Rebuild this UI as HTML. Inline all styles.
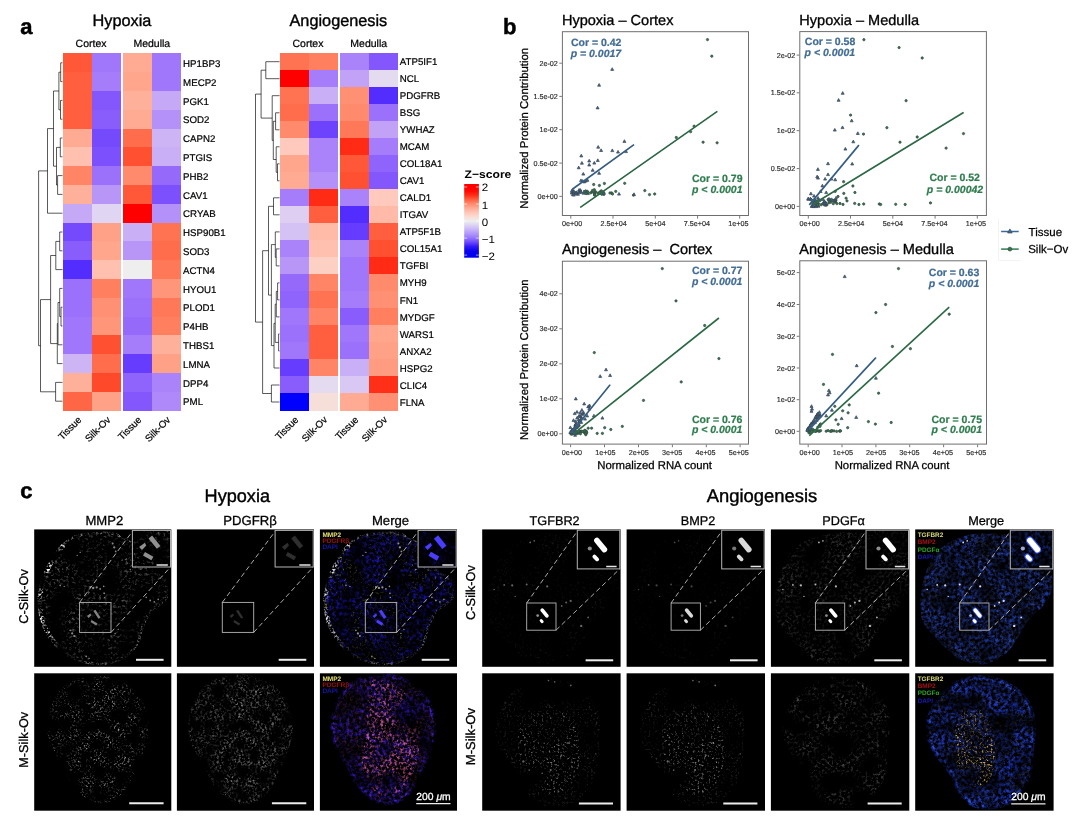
<!DOCTYPE html>
<html lang="en"><head><meta charset="utf-8"><title>Figure</title>
<style>
html,body{margin:0;padding:0;background:#fff;}
body{width:1080px;height:824px;overflow:hidden;font-family:"Liberation Sans", Arial, Helvetica, sans-serif;}
svg{display:block;font-family:"Liberation Sans", Arial, Helvetica, sans-serif;}
</style></head><body>
<svg width="1080" height="824" viewBox="0 0 1080 824" text-rendering="geometricPrecision">
<rect width="1080" height="824" fill="#fff"/>
<text x="20.30" y="33.60" font-size="22" font-weight="bold" fill="#000" stroke="#000" stroke-width="0.48">a</text>
<g shape-rendering="crispEdges">
<rect x="62.90" y="53.40" width="29.28" height="19.10" fill="#FF5838"/>
<rect x="91.88" y="53.40" width="29.28" height="19.10" fill="#A077FB"/>
<rect x="122.86" y="53.40" width="29.28" height="19.10" fill="#FFAB94"/>
<rect x="151.84" y="53.40" width="29.28" height="19.10" fill="#A077FB"/>
<rect x="62.90" y="72.20" width="29.28" height="19.10" fill="#FF5F3F"/>
<rect x="91.88" y="72.20" width="29.28" height="19.10" fill="#A57DFA"/>
<rect x="122.86" y="72.20" width="29.28" height="19.10" fill="#FFA68D"/>
<rect x="151.84" y="72.20" width="29.28" height="19.10" fill="#A077FB"/>
<rect x="62.90" y="91.00" width="29.28" height="19.10" fill="#FF5F3F"/>
<rect x="91.88" y="91.00" width="29.28" height="19.10" fill="#8357FC"/>
<rect x="122.86" y="91.00" width="29.28" height="19.10" fill="#FFB09B"/>
<rect x="151.84" y="91.00" width="29.28" height="19.10" fill="#C5A8F6"/>
<rect x="62.90" y="109.80" width="29.28" height="19.10" fill="#FF5F3F"/>
<rect x="91.88" y="109.80" width="29.28" height="19.10" fill="#895DFC"/>
<rect x="122.86" y="109.80" width="29.28" height="19.10" fill="#FFAB94"/>
<rect x="151.84" y="109.80" width="29.28" height="19.10" fill="#B490F9"/>
<rect x="62.90" y="128.60" width="29.28" height="19.10" fill="#FFAB94"/>
<rect x="91.88" y="128.60" width="29.28" height="19.10" fill="#754AFD"/>
<rect x="122.86" y="128.60" width="29.28" height="19.10" fill="#FF6D4C"/>
<rect x="151.84" y="128.60" width="29.28" height="19.10" fill="#CDB5F5"/>
<rect x="62.90" y="147.40" width="29.28" height="19.10" fill="#FFC0AF"/>
<rect x="91.88" y="147.40" width="29.28" height="19.10" fill="#7C51FD"/>
<rect x="122.86" y="147.40" width="29.28" height="19.10" fill="#FF5132"/>
<rect x="151.84" y="147.40" width="29.28" height="19.10" fill="#C9AFF6"/>
<rect x="62.90" y="166.20" width="29.28" height="19.10" fill="#FF8566"/>
<rect x="91.88" y="166.20" width="29.28" height="19.10" fill="#9B70FB"/>
<rect x="122.86" y="166.20" width="29.28" height="19.10" fill="#FF8A6C"/>
<rect x="151.84" y="166.20" width="29.28" height="19.10" fill="#956AFB"/>
<rect x="62.90" y="185.00" width="29.28" height="19.10" fill="#FFB09B"/>
<rect x="91.88" y="185.00" width="29.28" height="19.10" fill="#B896F8"/>
<rect x="122.86" y="185.00" width="29.28" height="19.10" fill="#FF5838"/>
<rect x="151.84" y="185.00" width="29.28" height="19.10" fill="#7C51FD"/>
<rect x="62.90" y="203.80" width="29.28" height="19.10" fill="#C5A8F6"/>
<rect x="91.88" y="203.80" width="29.28" height="19.10" fill="#E0D5F2"/>
<rect x="122.86" y="203.80" width="29.28" height="19.10" fill="#FF0000"/>
<rect x="151.84" y="203.80" width="29.28" height="19.10" fill="#B490F9"/>
<rect x="62.90" y="222.60" width="29.28" height="19.10" fill="#754AFD"/>
<rect x="91.88" y="222.60" width="29.28" height="19.10" fill="#FFA187"/>
<rect x="122.86" y="222.60" width="29.28" height="19.10" fill="#C9AFF6"/>
<rect x="151.84" y="222.60" width="29.28" height="19.10" fill="#FF7352"/>
<rect x="62.90" y="241.40" width="29.28" height="19.10" fill="#895DFC"/>
<rect x="91.88" y="241.40" width="29.28" height="19.10" fill="#FFA68D"/>
<rect x="122.86" y="241.40" width="29.28" height="19.10" fill="#B896F8"/>
<rect x="151.84" y="241.40" width="29.28" height="19.10" fill="#FF6D4C"/>
<rect x="62.90" y="260.20" width="29.28" height="19.10" fill="#532DFE"/>
<rect x="91.88" y="260.20" width="29.28" height="19.10" fill="#FFC0AF"/>
<rect x="122.86" y="260.20" width="29.28" height="19.10" fill="#EEEEEE"/>
<rect x="151.84" y="260.20" width="29.28" height="19.10" fill="#FF7959"/>
<rect x="62.90" y="279.00" width="29.28" height="19.10" fill="#9B70FB"/>
<rect x="91.88" y="279.00" width="29.28" height="19.10" fill="#FF7F5F"/>
<rect x="122.86" y="279.00" width="29.28" height="19.10" fill="#A077FB"/>
<rect x="151.84" y="279.00" width="29.28" height="19.10" fill="#FF9679"/>
<rect x="62.90" y="297.80" width="29.28" height="19.10" fill="#9B70FB"/>
<rect x="91.88" y="297.80" width="29.28" height="19.10" fill="#FF9073"/>
<rect x="122.86" y="297.80" width="29.28" height="19.10" fill="#9B70FB"/>
<rect x="151.84" y="297.80" width="29.28" height="19.10" fill="#FF7959"/>
<rect x="62.90" y="316.60" width="29.28" height="19.10" fill="#A077FB"/>
<rect x="91.88" y="316.60" width="29.28" height="19.10" fill="#FF9679"/>
<rect x="122.86" y="316.60" width="29.28" height="19.10" fill="#956AFB"/>
<rect x="151.84" y="316.60" width="29.28" height="19.10" fill="#FF7F5F"/>
<rect x="62.90" y="335.40" width="29.28" height="19.10" fill="#A077FB"/>
<rect x="91.88" y="335.40" width="29.28" height="19.10" fill="#FF5132"/>
<rect x="122.86" y="335.40" width="29.28" height="19.10" fill="#A57DFA"/>
<rect x="151.84" y="335.40" width="29.28" height="19.10" fill="#FFB09B"/>
<rect x="62.90" y="354.20" width="29.28" height="19.10" fill="#CDB5F5"/>
<rect x="91.88" y="354.20" width="29.28" height="19.10" fill="#FF6D4C"/>
<rect x="122.86" y="354.20" width="29.28" height="19.10" fill="#663CFE"/>
<rect x="151.84" y="354.20" width="29.28" height="19.10" fill="#FFA187"/>
<rect x="62.90" y="373.00" width="29.28" height="19.10" fill="#FFB09B"/>
<rect x="91.88" y="373.00" width="29.28" height="19.10" fill="#FF492B"/>
<rect x="122.86" y="373.00" width="29.28" height="19.10" fill="#8F64FC"/>
<rect x="151.84" y="373.00" width="29.28" height="19.10" fill="#AA83FA"/>
<rect x="62.90" y="391.80" width="29.28" height="19.10" fill="#FF6645"/>
<rect x="91.88" y="391.80" width="29.28" height="19.10" fill="#FFA187"/>
<rect x="122.86" y="391.80" width="29.28" height="19.10" fill="#8357FC"/>
<rect x="151.84" y="391.80" width="29.28" height="19.10" fill="#AF89F9"/>
</g>
<text x="183.12" y="67.00" font-size="9.7" fill="#000" stroke="#000" stroke-width="0.21">HP1BP3</text>
<text x="183.12" y="85.80" font-size="9.7" fill="#000" stroke="#000" stroke-width="0.21">MECP2</text>
<text x="183.12" y="104.60" font-size="9.7" fill="#000" stroke="#000" stroke-width="0.21">PGK1</text>
<text x="183.12" y="123.40" font-size="9.7" fill="#000" stroke="#000" stroke-width="0.21">SOD2</text>
<text x="183.12" y="142.20" font-size="9.7" fill="#000" stroke="#000" stroke-width="0.21">CAPN2</text>
<text x="183.12" y="161.00" font-size="9.7" fill="#000" stroke="#000" stroke-width="0.21">PTGIS</text>
<text x="183.12" y="179.80" font-size="9.7" fill="#000" stroke="#000" stroke-width="0.21">PHB2</text>
<text x="183.12" y="198.60" font-size="9.7" fill="#000" stroke="#000" stroke-width="0.21">CAV1</text>
<text x="183.12" y="217.40" font-size="9.7" fill="#000" stroke="#000" stroke-width="0.21">CRYAB</text>
<text x="183.12" y="236.20" font-size="9.7" fill="#000" stroke="#000" stroke-width="0.21">HSP90B1</text>
<text x="183.12" y="255.00" font-size="9.7" fill="#000" stroke="#000" stroke-width="0.21">SOD3</text>
<text x="183.12" y="273.80" font-size="9.7" fill="#000" stroke="#000" stroke-width="0.21">ACTN4</text>
<text x="183.12" y="292.60" font-size="9.7" fill="#000" stroke="#000" stroke-width="0.21">HYOU1</text>
<text x="183.12" y="311.40" font-size="9.7" fill="#000" stroke="#000" stroke-width="0.21">PLOD1</text>
<text x="183.12" y="330.20" font-size="9.7" fill="#000" stroke="#000" stroke-width="0.21">P4HB</text>
<text x="183.12" y="349.00" font-size="9.7" fill="#000" stroke="#000" stroke-width="0.21">THBS1</text>
<text x="183.12" y="367.80" font-size="9.7" fill="#000" stroke="#000" stroke-width="0.21">LMNA</text>
<text x="183.12" y="386.60" font-size="9.7" fill="#000" stroke="#000" stroke-width="0.21">DPP4</text>
<text x="183.12" y="405.40" font-size="9.7" fill="#000" stroke="#000" stroke-width="0.21">PML</text>
<text x="92.60" y="25.70" font-size="16.3" fill="#000" stroke="#000" stroke-width="0.36">Hypoxia</text>
<text x="91.08" y="47.30" font-size="10.5" text-anchor="middle" fill="#000" stroke="#000" stroke-width="0.23">Cortex</text>
<text x="151.84" y="47.30" font-size="10.5" text-anchor="middle" fill="#000" stroke="#000" stroke-width="0.23">Medulla</text>
<text x="82.09" y="420.50" font-size="9.7" text-anchor="end" fill="#000" stroke="#000" stroke-width="0.21" transform="rotate(-45 82.09 420.50)">Tissue</text>
<text x="111.07" y="420.50" font-size="9.7" text-anchor="end" fill="#000" stroke="#000" stroke-width="0.21" transform="rotate(-45 111.07 420.50)">Silk-Ov</text>
<text x="142.05" y="420.50" font-size="9.7" text-anchor="end" fill="#000" stroke="#000" stroke-width="0.21" transform="rotate(-45 142.05 420.50)">Tissue</text>
<text x="171.03" y="420.50" font-size="9.7" text-anchor="end" fill="#000" stroke="#000" stroke-width="0.21" transform="rotate(-45 171.03 420.50)">Silk-Ov</text>
<path d="M62.5 62.8H60.7V81.6H62.5M62.5 100.4H60.5V119.2H62.5M60.7 72.2H58.9V109.8H60.5M62.5 138.0H60.3V156.8H62.5M62.5 175.6H57.6V194.4H62.5M60.3 147.4H56.5V185.0H57.6M58.9 91.0H53.5V166.2H56.5M62.5 213.2H47.5V128.6H53.5M62.5 232.0H59.7V250.8H62.5M59.7 241.4H55.8V269.6H62.5M62.5 307.2H61.0V326.0H62.5M62.5 288.4H59.7V316.6H61.0M59.7 302.5H58.0V344.8H62.5M58.0 323.6H57.3V363.6H62.5M55.8 255.5H50.6V343.6H57.3M62.5 382.4H55.6V401.2H62.5M50.6 299.6H40.5V391.8H55.6M47.5 170.9H38.6V345.7H40.5" fill="none" stroke="#000" stroke-width="0.65"/>
<g shape-rendering="crispEdges">
<rect x="280.00" y="53.20" width="29.05" height="17.31" fill="#FF7352"/>
<rect x="308.75" y="53.20" width="29.05" height="17.31" fill="#FF7F5F"/>
<rect x="340.00" y="53.20" width="29.05" height="17.31" fill="#AA83FA"/>
<rect x="368.75" y="53.20" width="29.05" height="17.31" fill="#8357FC"/>
<rect x="280.00" y="70.21" width="29.05" height="17.31" fill="#FF0000"/>
<rect x="308.75" y="70.21" width="29.05" height="17.31" fill="#A57DFA"/>
<rect x="340.00" y="70.21" width="29.05" height="17.31" fill="#C1A2F7"/>
<rect x="368.75" y="70.21" width="29.05" height="17.31" fill="#E4DBF1"/>
<rect x="280.00" y="87.23" width="29.05" height="17.31" fill="#FF7352"/>
<rect x="308.75" y="87.23" width="29.05" height="17.31" fill="#C9AFF6"/>
<rect x="340.00" y="87.23" width="29.05" height="17.31" fill="#FF9073"/>
<rect x="368.75" y="87.23" width="29.05" height="17.31" fill="#532DFE"/>
<rect x="280.00" y="104.24" width="29.05" height="17.31" fill="#FF6D4C"/>
<rect x="308.75" y="104.24" width="29.05" height="17.31" fill="#9B70FB"/>
<rect x="340.00" y="104.24" width="29.05" height="17.31" fill="#FF8A6C"/>
<rect x="368.75" y="104.24" width="29.05" height="17.31" fill="#9B70FB"/>
<rect x="280.00" y="121.26" width="29.05" height="17.31" fill="#FF8A6C"/>
<rect x="308.75" y="121.26" width="29.05" height="17.31" fill="#6E43FD"/>
<rect x="340.00" y="121.26" width="29.05" height="17.31" fill="#FF7959"/>
<rect x="368.75" y="121.26" width="29.05" height="17.31" fill="#C1A2F7"/>
<rect x="280.00" y="138.27" width="29.05" height="17.31" fill="#FFCABD"/>
<rect x="308.75" y="138.27" width="29.05" height="17.31" fill="#AA83FA"/>
<rect x="340.00" y="138.27" width="29.05" height="17.31" fill="#FF2B14"/>
<rect x="368.75" y="138.27" width="29.05" height="17.31" fill="#A57DFA"/>
<rect x="280.00" y="155.29" width="29.05" height="17.31" fill="#FFA68D"/>
<rect x="308.75" y="155.29" width="29.05" height="17.31" fill="#AA83FA"/>
<rect x="340.00" y="155.29" width="29.05" height="17.31" fill="#FF5838"/>
<rect x="368.75" y="155.29" width="29.05" height="17.31" fill="#8F64FC"/>
<rect x="280.00" y="172.30" width="29.05" height="17.31" fill="#FFAB94"/>
<rect x="308.75" y="172.30" width="29.05" height="17.31" fill="#B490F9"/>
<rect x="340.00" y="172.30" width="29.05" height="17.31" fill="#FF5132"/>
<rect x="368.75" y="172.30" width="29.05" height="17.31" fill="#8357FC"/>
<rect x="280.00" y="189.31" width="29.05" height="17.31" fill="#A57DFA"/>
<rect x="308.75" y="189.31" width="29.05" height="17.31" fill="#FF2B14"/>
<rect x="340.00" y="189.31" width="29.05" height="17.31" fill="#AA83FA"/>
<rect x="368.75" y="189.31" width="29.05" height="17.31" fill="#FFCABD"/>
<rect x="280.00" y="206.33" width="29.05" height="17.31" fill="#DDCEF2"/>
<rect x="308.75" y="206.33" width="29.05" height="17.31" fill="#FF5F3F"/>
<rect x="340.00" y="206.33" width="29.05" height="17.31" fill="#532DFE"/>
<rect x="368.75" y="206.33" width="29.05" height="17.31" fill="#FFBBA8"/>
<rect x="280.00" y="223.34" width="29.05" height="17.31" fill="#D5C2F4"/>
<rect x="308.75" y="223.34" width="29.05" height="17.31" fill="#FFBBA8"/>
<rect x="340.00" y="223.34" width="29.05" height="17.31" fill="#663CFE"/>
<rect x="368.75" y="223.34" width="29.05" height="17.31" fill="#FF5F3F"/>
<rect x="280.00" y="240.36" width="29.05" height="17.31" fill="#AA83FA"/>
<rect x="308.75" y="240.36" width="29.05" height="17.31" fill="#FFC0AF"/>
<rect x="340.00" y="240.36" width="29.05" height="17.31" fill="#AA83FA"/>
<rect x="368.75" y="240.36" width="29.05" height="17.31" fill="#FF5132"/>
<rect x="280.00" y="257.37" width="29.05" height="17.31" fill="#B896F8"/>
<rect x="308.75" y="257.37" width="29.05" height="17.31" fill="#FDD0C4"/>
<rect x="340.00" y="257.37" width="29.05" height="17.31" fill="#A077FB"/>
<rect x="368.75" y="257.37" width="29.05" height="17.31" fill="#FF2B14"/>
<rect x="280.00" y="274.39" width="29.05" height="17.31" fill="#956AFB"/>
<rect x="308.75" y="274.39" width="29.05" height="17.31" fill="#FF8566"/>
<rect x="340.00" y="274.39" width="29.05" height="17.31" fill="#A077FB"/>
<rect x="368.75" y="274.39" width="29.05" height="17.31" fill="#FF8A6C"/>
<rect x="280.00" y="291.40" width="29.05" height="17.31" fill="#8F64FC"/>
<rect x="308.75" y="291.40" width="29.05" height="17.31" fill="#FF7352"/>
<rect x="340.00" y="291.40" width="29.05" height="17.31" fill="#A57DFA"/>
<rect x="368.75" y="291.40" width="29.05" height="17.31" fill="#FF9073"/>
<rect x="280.00" y="308.41" width="29.05" height="17.31" fill="#A077FB"/>
<rect x="308.75" y="308.41" width="29.05" height="17.31" fill="#FF8566"/>
<rect x="340.00" y="308.41" width="29.05" height="17.31" fill="#895DFC"/>
<rect x="368.75" y="308.41" width="29.05" height="17.31" fill="#FF7F5F"/>
<rect x="280.00" y="325.43" width="29.05" height="17.31" fill="#9B70FB"/>
<rect x="308.75" y="325.43" width="29.05" height="17.31" fill="#FF5F3F"/>
<rect x="340.00" y="325.43" width="29.05" height="17.31" fill="#A077FB"/>
<rect x="368.75" y="325.43" width="29.05" height="17.31" fill="#FFA68D"/>
<rect x="280.00" y="342.44" width="29.05" height="17.31" fill="#A077FB"/>
<rect x="308.75" y="342.44" width="29.05" height="17.31" fill="#FF5F3F"/>
<rect x="340.00" y="342.44" width="29.05" height="17.31" fill="#9B70FB"/>
<rect x="368.75" y="342.44" width="29.05" height="17.31" fill="#FFA187"/>
<rect x="280.00" y="359.46" width="29.05" height="17.31" fill="#663CFE"/>
<rect x="308.75" y="359.46" width="29.05" height="17.31" fill="#FF8566"/>
<rect x="340.00" y="359.46" width="29.05" height="17.31" fill="#C9AFF6"/>
<rect x="368.75" y="359.46" width="29.05" height="17.31" fill="#FF9B80"/>
<rect x="280.00" y="376.47" width="29.05" height="17.31" fill="#895DFC"/>
<rect x="308.75" y="376.47" width="29.05" height="17.31" fill="#E4DBF1"/>
<rect x="340.00" y="376.47" width="29.05" height="17.31" fill="#D9C8F3"/>
<rect x="368.75" y="376.47" width="29.05" height="17.31" fill="#FF3017"/>
<rect x="280.00" y="393.49" width="29.05" height="17.31" fill="#0000FF"/>
<rect x="308.75" y="393.49" width="29.05" height="17.31" fill="#F6DFD9"/>
<rect x="340.00" y="393.49" width="29.05" height="17.31" fill="#FFAB94"/>
<rect x="368.75" y="393.49" width="29.05" height="17.31" fill="#FF9073"/>
</g>
<text x="399.80" y="65.31" font-size="9.7" fill="#000" stroke="#000" stroke-width="0.21">ATP5IF1</text>
<text x="399.80" y="82.32" font-size="9.7" fill="#000" stroke="#000" stroke-width="0.21">NCL</text>
<text x="399.80" y="99.34" font-size="9.7" fill="#000" stroke="#000" stroke-width="0.21">PDGFRB</text>
<text x="399.80" y="116.35" font-size="9.7" fill="#000" stroke="#000" stroke-width="0.21">BSG</text>
<text x="399.80" y="133.36" font-size="9.7" fill="#000" stroke="#000" stroke-width="0.21">YWHAZ</text>
<text x="399.80" y="150.38" font-size="9.7" fill="#000" stroke="#000" stroke-width="0.21">MCAM</text>
<text x="399.80" y="167.39" font-size="9.7" fill="#000" stroke="#000" stroke-width="0.21">COL18A1</text>
<text x="399.80" y="184.41" font-size="9.7" fill="#000" stroke="#000" stroke-width="0.21">CAV1</text>
<text x="399.80" y="201.42" font-size="9.7" fill="#000" stroke="#000" stroke-width="0.21">CALD1</text>
<text x="399.80" y="218.44" font-size="9.7" fill="#000" stroke="#000" stroke-width="0.21">ITGAV</text>
<text x="399.80" y="235.45" font-size="9.7" fill="#000" stroke="#000" stroke-width="0.21">ATP5F1B</text>
<text x="399.80" y="252.46" font-size="9.7" fill="#000" stroke="#000" stroke-width="0.21">COL15A1</text>
<text x="399.80" y="269.48" font-size="9.7" fill="#000" stroke="#000" stroke-width="0.21">TGFBI</text>
<text x="399.80" y="286.49" font-size="9.7" fill="#000" stroke="#000" stroke-width="0.21">MYH9</text>
<text x="399.80" y="303.51" font-size="9.7" fill="#000" stroke="#000" stroke-width="0.21">FN1</text>
<text x="399.80" y="320.52" font-size="9.7" fill="#000" stroke="#000" stroke-width="0.21">MYDGF</text>
<text x="399.80" y="337.54" font-size="9.7" fill="#000" stroke="#000" stroke-width="0.21">WARS1</text>
<text x="399.80" y="354.55" font-size="9.7" fill="#000" stroke="#000" stroke-width="0.21">ANXA2</text>
<text x="399.80" y="371.56" font-size="9.7" fill="#000" stroke="#000" stroke-width="0.21">HSPG2</text>
<text x="399.80" y="388.58" font-size="9.7" fill="#000" stroke="#000" stroke-width="0.21">CLIC4</text>
<text x="399.80" y="405.59" font-size="9.7" fill="#000" stroke="#000" stroke-width="0.21">FLNA</text>
<text x="289.50" y="25.70" font-size="16.3" fill="#000" stroke="#000" stroke-width="0.36">Angiogenesis</text>
<text x="307.95" y="47.30" font-size="10.5" text-anchor="middle" fill="#000" stroke="#000" stroke-width="0.23">Cortex</text>
<text x="368.75" y="47.30" font-size="10.5" text-anchor="middle" fill="#000" stroke="#000" stroke-width="0.23">Medulla</text>
<text x="299.07" y="420.40" font-size="9.7" text-anchor="end" fill="#000" stroke="#000" stroke-width="0.21" transform="rotate(-45 299.07 420.40)">Tissue</text>
<text x="327.82" y="420.40" font-size="9.7" text-anchor="end" fill="#000" stroke="#000" stroke-width="0.21" transform="rotate(-45 327.82 420.40)">Silk-Ov</text>
<text x="359.07" y="420.40" font-size="9.7" text-anchor="end" fill="#000" stroke="#000" stroke-width="0.21" transform="rotate(-45 359.07 420.40)">Tissue</text>
<text x="387.82" y="420.40" font-size="9.7" text-anchor="end" fill="#000" stroke="#000" stroke-width="0.21" transform="rotate(-45 387.82 420.40)">Silk-Ov</text>
<path d="M279.6 61.7H265.8V78.7H279.6M279.6 112.8H275.6V129.8H279.6M279.6 163.8H277.5V180.8H279.6M279.6 146.8H276.2V172.3H277.5M275.6 121.3H273.3V159.5H276.2M279.6 95.7H272.2V140.4H273.3M265.8 70.2H261.1V118.1H272.2M279.6 197.8H273.5V214.8H279.6M279.6 248.9H276.2V265.9H279.6M279.6 231.9H275.3V257.4H276.2M279.6 282.9H277.6V299.9H279.6M277.6 291.4H276.3V316.9H279.6M279.6 333.9H278.6V351.0H279.6M276.3 304.2H275.2V342.4H278.6M275.2 323.3H274.0V368.0H279.6M275.3 244.6H271.4V345.6H274.0M273.5 206.3H268.5V295.1H271.4M279.6 385.0H271.4V402.0H279.6M268.5 250.7H262.6V393.5H271.4M261.1 94.1H255.5V322.1H262.6" fill="none" stroke="#000" stroke-width="0.65"/>
<defs><linearGradient id="zg" x1="0" y1="0" x2="0" y2="1">
<stop offset="0.0000" stop-color="#FF0000"/>
<stop offset="0.0625" stop-color="#FF0A02"/>
<stop offset="0.1250" stop-color="#FF3018"/>
<stop offset="0.1875" stop-color="#FF6244"/>
<stop offset="0.2500" stop-color="#FF8C70"/>
<stop offset="0.3125" stop-color="#FFAC98"/>
<stop offset="0.3750" stop-color="#FFC6B8"/>
<stop offset="0.4375" stop-color="#FADCD6"/>
<stop offset="0.5000" stop-color="#EEEEEE"/>
<stop offset="0.5625" stop-color="#DCD2F4"/>
<stop offset="0.6250" stop-color="#C8B4F8"/>
<stop offset="0.6875" stop-color="#B096FA"/>
<stop offset="0.7500" stop-color="#9474FA"/>
<stop offset="0.8125" stop-color="#6A48FC"/>
<stop offset="0.8750" stop-color="#3218F6"/>
<stop offset="0.9375" stop-color="#0C04EC"/>
<stop offset="1.0000" stop-color="#0000F0"/>
</linearGradient></defs>
<text transform="translate(464.6 177.7) scale(1.1 1)" font-size="11" font-weight="bold" fill="#000">Z−score</text>
<rect x="464.2" y="184" width="14.7" height="3.3" fill="#FF0000"/><rect x="464.2" y="254.8" width="14.7" height="2.9" fill="#0000F0"/>
<rect x="464.2" y="187.0" width="14.7" height="68.1" fill="url(#zg)"/>
<path d="M464.2 187.0h3M475.9 187.0h3" stroke="#fff" stroke-width="0.6"/>
<text transform="translate(481.8 191.4) scale(1.08 1)" font-size="10.7" fill="#000">2</text>
<path d="M464.2 204.0h3M475.9 204.0h3" stroke="#fff" stroke-width="0.6"/>
<text transform="translate(481.8 208.7) scale(1.08 1)" font-size="10.7" fill="#000">1</text>
<path d="M464.2 221.1h3M475.9 221.1h3" stroke="#fff" stroke-width="0.6"/>
<text transform="translate(481.8 225.9) scale(1.08 1)" font-size="10.7" fill="#000">0</text>
<path d="M464.2 238.1h3M475.9 238.1h3" stroke="#fff" stroke-width="0.6"/>
<text transform="translate(481.8 243.2) scale(1.08 1)" font-size="10.7" fill="#000">−1</text>
<path d="M464.2 255.1h3M475.9 255.1h3" stroke="#fff" stroke-width="0.6"/>
<text transform="translate(481.8 260.4) scale(1.08 1)" font-size="10.7" fill="#000">−2</text>
<text x="503.00" y="33.70" font-size="22" font-weight="bold" fill="#000" stroke="#000" stroke-width="0.48">b</text>
<text x="561.90" y="24.90" font-size="14.55" fill="#000" stroke="#000" stroke-width="0.32">Hypoxia – Cortex</text>
<g><path d="M572.8 192.9L574.3 195.6H571.3Z" fill="#3A6B98" stroke="#3C4650" stroke-width="0.7"/><path d="M579.1 189.8L580.6 192.5H577.6Z" fill="#3A6B98" stroke="#3C4650" stroke-width="0.7"/><path d="M576.5 190.8L578.0 193.5H575.0Z" fill="#3A6B98" stroke="#3C4650" stroke-width="0.7"/><path d="M578.0 192.6L579.5 195.3H576.5Z" fill="#3A6B98" stroke="#3C4650" stroke-width="0.7"/><path d="M572.4 188.6L573.9 191.3H570.9Z" fill="#3A6B98" stroke="#3C4650" stroke-width="0.7"/><path d="M579.9 190.7L581.4 193.4H578.4Z" fill="#3A6B98" stroke="#3C4650" stroke-width="0.7"/><path d="M579.1 188.4L580.6 191.1H577.6Z" fill="#3A6B98" stroke="#3C4650" stroke-width="0.7"/><path d="M576.0 192.2L577.5 194.9H574.5Z" fill="#3A6B98" stroke="#3C4650" stroke-width="0.7"/><path d="M573.8 193.4L575.3 196.1H572.3Z" fill="#3A6B98" stroke="#3C4650" stroke-width="0.7"/><path d="M580.5 188.6L582.0 191.3H579.0Z" fill="#3A6B98" stroke="#3C4650" stroke-width="0.7"/><path d="M571.8 191.3L573.3 194.0H570.3Z" fill="#3A6B98" stroke="#3C4650" stroke-width="0.7"/><path d="M580.9 190.4L582.4 193.1H579.4Z" fill="#3A6B98" stroke="#3C4650" stroke-width="0.7"/><path d="M573.7 190.7L575.2 193.4H572.2Z" fill="#3A6B98" stroke="#3C4650" stroke-width="0.7"/><path d="M571.8 189.6L573.3 192.3H570.3Z" fill="#3A6B98" stroke="#3C4650" stroke-width="0.7"/><path d="M575.9 191.1L577.4 193.8H574.4Z" fill="#3A6B98" stroke="#3C4650" stroke-width="0.7"/><path d="M573.8 189.6L575.3 192.3H572.3Z" fill="#3A6B98" stroke="#3C4650" stroke-width="0.7"/><path d="M583.5 191.5L585.0 194.2H582.0Z" fill="#3A6B98" stroke="#3C4650" stroke-width="0.7"/><path d="M584.0 190.0L585.5 192.7H582.5Z" fill="#3A6B98" stroke="#3C4650" stroke-width="0.7"/><path d="M587.9 191.9L589.4 194.6H586.4Z" fill="#3A6B98" stroke="#3C4650" stroke-width="0.7"/><path d="M586.5 190.6L588.0 193.3H585.0Z" fill="#3A6B98" stroke="#3C4650" stroke-width="0.7"/><circle cx="603.9" cy="194.4" r="1.15" fill="#2F7D4F" stroke="#3A4A44" stroke-width="0.8"/><circle cx="587.3" cy="191.4" r="1.15" fill="#2F7D4F" stroke="#3A4A44" stroke-width="0.8"/><circle cx="598.7" cy="193.6" r="1.15" fill="#2F7D4F" stroke="#3A4A44" stroke-width="0.8"/><circle cx="602.8" cy="191.9" r="1.15" fill="#2F7D4F" stroke="#3A4A44" stroke-width="0.8"/><circle cx="600.8" cy="193.3" r="1.15" fill="#2F7D4F" stroke="#3A4A44" stroke-width="0.8"/><circle cx="590.8" cy="192.8" r="1.15" fill="#2F7D4F" stroke="#3A4A44" stroke-width="0.8"/><circle cx="601.8" cy="194.3" r="1.15" fill="#2F7D4F" stroke="#3A4A44" stroke-width="0.8"/><circle cx="594.6" cy="192.9" r="1.15" fill="#2F7D4F" stroke="#3A4A44" stroke-width="0.8"/><circle cx="585.7" cy="190.9" r="1.15" fill="#2F7D4F" stroke="#3A4A44" stroke-width="0.8"/><circle cx="600.2" cy="191.9" r="1.15" fill="#2F7D4F" stroke="#3A4A44" stroke-width="0.8"/><circle cx="588.3" cy="192.6" r="1.15" fill="#2F7D4F" stroke="#3A4A44" stroke-width="0.8"/><circle cx="598.4" cy="193.3" r="1.15" fill="#2F7D4F" stroke="#3A4A44" stroke-width="0.8"/><circle cx="592.1" cy="192.0" r="1.15" fill="#2F7D4F" stroke="#3A4A44" stroke-width="0.8"/><circle cx="594.7" cy="193.9" r="1.15" fill="#2F7D4F" stroke="#3A4A44" stroke-width="0.8"/><circle cx="594.9" cy="191.7" r="1.15" fill="#2F7D4F" stroke="#3A4A44" stroke-width="0.8"/><circle cx="594.3" cy="189.7" r="1.15" fill="#2F7D4F" stroke="#3A4A44" stroke-width="0.8"/><circle cx="585.8" cy="193.5" r="1.15" fill="#2F7D4F" stroke="#3A4A44" stroke-width="0.8"/><circle cx="603.7" cy="192.9" r="1.15" fill="#2F7D4F" stroke="#3A4A44" stroke-width="0.8"/><circle cx="592.5" cy="190.5" r="1.15" fill="#2F7D4F" stroke="#3A4A44" stroke-width="0.8"/><circle cx="594.5" cy="195.1" r="1.15" fill="#2F7D4F" stroke="#3A4A44" stroke-width="0.8"/><circle cx="599.6" cy="192.6" r="1.15" fill="#2F7D4F" stroke="#3A4A44" stroke-width="0.8"/><circle cx="601.3" cy="190.8" r="1.15" fill="#2F7D4F" stroke="#3A4A44" stroke-width="0.8"/><circle cx="594.8" cy="194.9" r="1.15" fill="#2F7D4F" stroke="#3A4A44" stroke-width="0.8"/><circle cx="596.0" cy="192.1" r="1.15" fill="#2F7D4F" stroke="#3A4A44" stroke-width="0.8"/><circle cx="707.5" cy="39.6" r="1.15" fill="#2F7D4F" stroke="#3A4A44" stroke-width="0.8"/><circle cx="711.8" cy="56.2" r="1.15" fill="#2F7D4F" stroke="#3A4A44" stroke-width="0.8"/><circle cx="694.1" cy="126.2" r="1.15" fill="#2F7D4F" stroke="#3A4A44" stroke-width="0.8"/><circle cx="690.6" cy="131.7" r="1.15" fill="#2F7D4F" stroke="#3A4A44" stroke-width="0.8"/><circle cx="676.3" cy="137.5" r="1.15" fill="#2F7D4F" stroke="#3A4A44" stroke-width="0.8"/><circle cx="703.1" cy="142.2" r="1.15" fill="#2F7D4F" stroke="#3A4A44" stroke-width="0.8"/><circle cx="717.1" cy="142.8" r="1.15" fill="#2F7D4F" stroke="#3A4A44" stroke-width="0.8"/><circle cx="624.7" cy="183.3" r="1.15" fill="#2F7D4F" stroke="#3A4A44" stroke-width="0.8"/><circle cx="644.8" cy="190.6" r="1.15" fill="#2F7D4F" stroke="#3A4A44" stroke-width="0.8"/><circle cx="649.5" cy="194.6" r="1.15" fill="#2F7D4F" stroke="#3A4A44" stroke-width="0.8"/><circle cx="654.7" cy="194.0" r="1.15" fill="#2F7D4F" stroke="#3A4A44" stroke-width="0.8"/><circle cx="633.5" cy="195.2" r="1.15" fill="#2F7D4F" stroke="#3A4A44" stroke-width="0.8"/><circle cx="611.6" cy="192.9" r="1.15" fill="#2F7D4F" stroke="#3A4A44" stroke-width="0.8"/><circle cx="615.7" cy="191.4" r="1.15" fill="#2F7D4F" stroke="#3A4A44" stroke-width="0.8"/><circle cx="593.7" cy="184.5" r="1.15" fill="#2F7D4F" stroke="#3A4A44" stroke-width="0.8"/><circle cx="599.4" cy="185.5" r="1.15" fill="#2F7D4F" stroke="#3A4A44" stroke-width="0.8"/><circle cx="604.4" cy="183.5" r="1.15" fill="#2F7D4F" stroke="#3A4A44" stroke-width="0.8"/><circle cx="610.0" cy="193.0" r="1.15" fill="#2F7D4F" stroke="#3A4A44" stroke-width="0.8"/><circle cx="612.5" cy="194.0" r="1.15" fill="#2F7D4F" stroke="#3A4A44" stroke-width="0.8"/><path d="M612.2 67.7L613.7 70.4H610.7Z" fill="#3A6B98" stroke="#3C4650" stroke-width="0.7"/><path d="M599.1 83.5L600.6 86.2H597.6Z" fill="#3A6B98" stroke="#3C4650" stroke-width="0.7"/><path d="M597.6 106.2L599.1 108.9H596.1Z" fill="#3A6B98" stroke="#3C4650" stroke-width="0.7"/><path d="M624.4 139.7L625.9 142.4H622.9Z" fill="#3A6B98" stroke="#3C4650" stroke-width="0.7"/><path d="M598.2 145.5L599.7 148.2H596.7Z" fill="#3A6B98" stroke="#3C4650" stroke-width="0.7"/><path d="M601.1 148.8L602.6 151.5H599.6Z" fill="#3A6B98" stroke="#3C4650" stroke-width="0.7"/><path d="M612.3 148.9L613.8 151.6H610.8Z" fill="#3A6B98" stroke="#3C4650" stroke-width="0.7"/><path d="M618.0 150.4L619.5 153.1H616.5Z" fill="#3A6B98" stroke="#3C4650" stroke-width="0.7"/><path d="M626.0 149.9L627.5 152.6H624.5Z" fill="#3A6B98" stroke="#3C4650" stroke-width="0.7"/><path d="M581.3 154.2L582.8 156.9H579.8Z" fill="#3A6B98" stroke="#3C4650" stroke-width="0.7"/><path d="M589.2 159.3L590.7 162.0H587.7Z" fill="#3A6B98" stroke="#3C4650" stroke-width="0.7"/><path d="M597.8 158.8L599.3 161.5H596.3Z" fill="#3A6B98" stroke="#3C4650" stroke-width="0.7"/><path d="M581.9 161.5L583.4 164.2H580.4Z" fill="#3A6B98" stroke="#3C4650" stroke-width="0.7"/><path d="M594.3 161.4L595.8 164.1H592.8Z" fill="#3A6B98" stroke="#3C4650" stroke-width="0.7"/><path d="M589.2 163.3L590.7 166.0H587.7Z" fill="#3A6B98" stroke="#3C4650" stroke-width="0.7"/><path d="M578.7 166.1L580.2 168.8H577.2Z" fill="#3A6B98" stroke="#3C4650" stroke-width="0.7"/><path d="M592.7 168.6L594.2 171.3H591.2Z" fill="#3A6B98" stroke="#3C4650" stroke-width="0.7"/><path d="M583.3 172.4L584.8 175.1H581.8Z" fill="#3A6B98" stroke="#3C4650" stroke-width="0.7"/><path d="M599.1 171.6L600.6 174.3H597.6Z" fill="#3A6B98" stroke="#3C4650" stroke-width="0.7"/><path d="M634.0 192.8L635.5 195.5H632.5Z" fill="#3A6B98" stroke="#3C4650" stroke-width="0.7"/><path d="M619.0 192.4L620.5 195.1H617.5Z" fill="#3A6B98" stroke="#3C4650" stroke-width="0.7"/><path d="M603.9 191.4L605.4 194.1H602.4Z" fill="#3A6B98" stroke="#3C4650" stroke-width="0.7"/><path d="M581.0 178.9L582.5 181.6H579.5Z" fill="#3A6B98" stroke="#3C4650" stroke-width="0.7"/><path d="M582.6 179.6L584.1 182.3H581.1Z" fill="#3A6B98" stroke="#3C4650" stroke-width="0.7"/><path d="M584.2 180.2L585.7 182.9H582.7Z" fill="#3A6B98" stroke="#3C4650" stroke-width="0.7"/><path d="M585.8 179.4L587.3 182.1H584.3Z" fill="#3A6B98" stroke="#3C4650" stroke-width="0.7"/><path d="M587.4 178.6L588.9 181.3H585.9Z" fill="#3A6B98" stroke="#3C4650" stroke-width="0.7"/></g>
<path d="M572.3 189.3L634 144.6" stroke="#3A6B98" stroke-width="1.7" stroke-linecap="butt"/><path d="M572.3 189.3L634 144.6" stroke="#3E5066" stroke-width="0.8"/>
<path d="M580.3 207.4L717.3 111.4" stroke="#2F7D4F" stroke-width="1.7" stroke-linecap="butt"/><path d="M580.3 207.4L717.3 111.4" stroke="#3A5446" stroke-width="0.8"/>
<rect x="562.4" y="31.7" width="186.10000000000002" height="183.8" fill="none" stroke="#6E6E6E" stroke-width="1"/>
<text x="572.15" y="226.00" font-size="7.2" text-anchor="middle" fill="#2C2C2C" stroke="#2C2C2C" stroke-width="0.16">0e+00</text>
<text x="613.68" y="226.00" font-size="7.2" text-anchor="middle" fill="#2C2C2C" stroke="#2C2C2C" stroke-width="0.16">2.5e+04</text>
<text x="655.30" y="226.00" font-size="7.2" text-anchor="middle" fill="#2C2C2C" stroke="#2C2C2C" stroke-width="0.16">5e+04</text>
<text x="696.93" y="226.00" font-size="7.2" text-anchor="middle" fill="#2C2C2C" stroke="#2C2C2C" stroke-width="0.16">7.5e+04</text>
<text x="738.35" y="226.00" font-size="7.2" text-anchor="middle" fill="#2C2C2C" stroke="#2C2C2C" stroke-width="0.16">1e+05</text>
<text x="557.80" y="65.80" font-size="7.2" text-anchor="end" fill="#2C2C2C" stroke="#2C2C2C" stroke-width="0.16">2e-02</text>
<text x="557.80" y="99.00" font-size="7.2" text-anchor="end" fill="#2C2C2C" stroke="#2C2C2C" stroke-width="0.16">1.5e-02</text>
<text x="557.80" y="132.30" font-size="7.2" text-anchor="end" fill="#2C2C2C" stroke="#2C2C2C" stroke-width="0.16">1e-02</text>
<text x="557.80" y="165.70" font-size="7.2" text-anchor="end" fill="#2C2C2C" stroke="#2C2C2C" stroke-width="0.16">0.5e-02</text>
<text x="557.80" y="199.00" font-size="7.2" text-anchor="end" fill="#2C2C2C" stroke="#2C2C2C" stroke-width="0.16">0e+00</text>
<path d="M570.8 216.0v2.6M613.0 216.0v2.6M655.3 216.0v2.6M697.6 216.0v2.6M739.7 216.0v2.6M561.9 63.2h-2.6M561.9 96.4h-2.6M561.9 129.7h-2.6M561.9 163.1h-2.6M561.9 196.4h-2.6" stroke="#555" stroke-width="0.8"/>
<text x="570.90" y="45.80" font-size="10.5" font-weight="bold" fill="#436C94" stroke="#436C94" stroke-width="0.23">Cor = 0.42</text>
<text x="570.70" y="56.90" font-size="10.5" font-weight="bold" font-style="italic" fill="#436C94" stroke="#436C94" stroke-width="0.23">p = 0.0017</text>
<text x="742.50" y="181.50" font-size="10.5" text-anchor="end" font-weight="bold" fill="#2F7D4F" stroke="#2F7D4F" stroke-width="0.23">Cor = 0.79</text>
<text x="742.50" y="193.20" font-size="10.5" text-anchor="end" font-weight="bold" font-style="italic" fill="#2F7D4F" stroke="#2F7D4F" stroke-width="0.23">p &lt; 0.0001</text>
<text x="799.30" y="24.80" font-size="14.55" fill="#000" stroke="#000" stroke-width="0.32">Hypoxia – Medulla</text>
<g><path d="M818.5 204.5L820.0 207.2H817.0Z" fill="#3A6B98" stroke="#3C4650" stroke-width="0.7"/><path d="M808.4 197.6L809.9 200.3H806.9Z" fill="#3A6B98" stroke="#3C4650" stroke-width="0.7"/><path d="M817.2 202.8L818.7 205.5H815.7Z" fill="#3A6B98" stroke="#3C4650" stroke-width="0.7"/><path d="M815.3 199.4L816.8 202.1H813.8Z" fill="#3A6B98" stroke="#3C4650" stroke-width="0.7"/><path d="M814.6 201.8L816.1 204.5H813.1Z" fill="#3A6B98" stroke="#3C4650" stroke-width="0.7"/><path d="M814.3 198.2L815.8 200.9H812.8Z" fill="#3A6B98" stroke="#3C4650" stroke-width="0.7"/><path d="M812.6 200.1L814.1 202.8H811.1Z" fill="#3A6B98" stroke="#3C4650" stroke-width="0.7"/><path d="M815.9 204.9L817.4 207.6H814.4Z" fill="#3A6B98" stroke="#3C4650" stroke-width="0.7"/><path d="M818.4 201.3L819.9 204.0H816.9Z" fill="#3A6B98" stroke="#3C4650" stroke-width="0.7"/><path d="M812.8 199.1L814.3 201.8H811.3Z" fill="#3A6B98" stroke="#3C4650" stroke-width="0.7"/><path d="M808.2 197.1L809.7 199.8H806.7Z" fill="#3A6B98" stroke="#3C4650" stroke-width="0.7"/><path d="M813.0 199.5L814.5 202.2H811.5Z" fill="#3A6B98" stroke="#3C4650" stroke-width="0.7"/><path d="M812.1 204.1L813.6 206.8H810.6Z" fill="#3A6B98" stroke="#3C4650" stroke-width="0.7"/><path d="M813.7 201.4L815.2 204.1H812.2Z" fill="#3A6B98" stroke="#3C4650" stroke-width="0.7"/><path d="M810.4 197.1L811.9 199.8H808.9Z" fill="#3A6B98" stroke="#3C4650" stroke-width="0.7"/><path d="M811.4 198.0L812.9 200.7H809.9Z" fill="#3A6B98" stroke="#3C4650" stroke-width="0.7"/><path d="M813.5 204.9L815.0 207.6H812.0Z" fill="#3A6B98" stroke="#3C4650" stroke-width="0.7"/><path d="M815.4 198.4L816.9 201.1H813.9Z" fill="#3A6B98" stroke="#3C4650" stroke-width="0.7"/><path d="M817.8 203.3L819.3 206.0H816.3Z" fill="#3A6B98" stroke="#3C4650" stroke-width="0.7"/><path d="M816.0 204.2L817.5 206.9H814.5Z" fill="#3A6B98" stroke="#3C4650" stroke-width="0.7"/><path d="M816.3 203.2L817.8 205.9H814.8Z" fill="#3A6B98" stroke="#3C4650" stroke-width="0.7"/><path d="M811.8 204.8L813.3 207.5H810.3Z" fill="#3A6B98" stroke="#3C4650" stroke-width="0.7"/><path d="M818.6 198.2L820.1 200.9H817.1Z" fill="#3A6B98" stroke="#3C4650" stroke-width="0.7"/><path d="M816.2 202.6L817.7 205.3H814.7Z" fill="#3A6B98" stroke="#3C4650" stroke-width="0.7"/><path d="M813.0 201.2L814.5 203.9H811.5Z" fill="#3A6B98" stroke="#3C4650" stroke-width="0.7"/><path d="M813.3 204.3L814.8 207.0H811.8Z" fill="#3A6B98" stroke="#3C4650" stroke-width="0.7"/><circle cx="825.0" cy="204.4" r="1.15" fill="#2F7D4F" stroke="#3A4A44" stroke-width="0.8"/><circle cx="821.2" cy="204.7" r="1.15" fill="#2F7D4F" stroke="#3A4A44" stroke-width="0.8"/><circle cx="835.4" cy="202.0" r="1.15" fill="#2F7D4F" stroke="#3A4A44" stroke-width="0.8"/><circle cx="826.8" cy="205.0" r="1.15" fill="#2F7D4F" stroke="#3A4A44" stroke-width="0.8"/><circle cx="830.8" cy="202.2" r="1.15" fill="#2F7D4F" stroke="#3A4A44" stroke-width="0.8"/><circle cx="817.8" cy="201.1" r="1.15" fill="#2F7D4F" stroke="#3A4A44" stroke-width="0.8"/><circle cx="830.2" cy="200.1" r="1.15" fill="#2F7D4F" stroke="#3A4A44" stroke-width="0.8"/><circle cx="835.6" cy="200.7" r="1.15" fill="#2F7D4F" stroke="#3A4A44" stroke-width="0.8"/><circle cx="835.7" cy="201.0" r="1.15" fill="#2F7D4F" stroke="#3A4A44" stroke-width="0.8"/><circle cx="836.9" cy="203.6" r="1.15" fill="#2F7D4F" stroke="#3A4A44" stroke-width="0.8"/><circle cx="825.1" cy="202.4" r="1.15" fill="#2F7D4F" stroke="#3A4A44" stroke-width="0.8"/><circle cx="828.9" cy="202.8" r="1.15" fill="#2F7D4F" stroke="#3A4A44" stroke-width="0.8"/><circle cx="820.1" cy="200.4" r="1.15" fill="#2F7D4F" stroke="#3A4A44" stroke-width="0.8"/><circle cx="825.3" cy="205.1" r="1.15" fill="#2F7D4F" stroke="#3A4A44" stroke-width="0.8"/><circle cx="828.2" cy="199.5" r="1.15" fill="#2F7D4F" stroke="#3A4A44" stroke-width="0.8"/><circle cx="833.3" cy="203.7" r="1.15" fill="#2F7D4F" stroke="#3A4A44" stroke-width="0.8"/><circle cx="835.6" cy="200.2" r="1.15" fill="#2F7D4F" stroke="#3A4A44" stroke-width="0.8"/><circle cx="831.4" cy="199.4" r="1.15" fill="#2F7D4F" stroke="#3A4A44" stroke-width="0.8"/><circle cx="829.0" cy="200.8" r="1.15" fill="#2F7D4F" stroke="#3A4A44" stroke-width="0.8"/><circle cx="817.9" cy="204.7" r="1.15" fill="#2F7D4F" stroke="#3A4A44" stroke-width="0.8"/><circle cx="814.8" cy="202.4" r="1.15" fill="#2F7D4F" stroke="#3A4A44" stroke-width="0.8"/><circle cx="834.2" cy="200.6" r="1.15" fill="#2F7D4F" stroke="#3A4A44" stroke-width="0.8"/><circle cx="817.5" cy="204.7" r="1.15" fill="#2F7D4F" stroke="#3A4A44" stroke-width="0.8"/><circle cx="823.0" cy="203.7" r="1.15" fill="#2F7D4F" stroke="#3A4A44" stroke-width="0.8"/><path d="M824.4 200.2L825.9 202.9H822.9Z" fill="#3A6B98" stroke="#3C4650" stroke-width="0.7"/><path d="M826.1 201.8L827.6 204.5H824.6Z" fill="#3A6B98" stroke="#3C4650" stroke-width="0.7"/><path d="M825.0 203.2L826.5 205.9H823.5Z" fill="#3A6B98" stroke="#3C4650" stroke-width="0.7"/><path d="M824.3 202.1L825.8 204.8H822.8Z" fill="#3A6B98" stroke="#3C4650" stroke-width="0.7"/><path d="M824.3 199.7L825.8 202.4H822.8Z" fill="#3A6B98" stroke="#3C4650" stroke-width="0.7"/><path d="M833.8 199.2L835.3 201.9H832.3Z" fill="#3A6B98" stroke="#3C4650" stroke-width="0.7"/><path d="M826.2 201.9L827.7 204.6H824.7Z" fill="#3A6B98" stroke="#3C4650" stroke-width="0.7"/><circle cx="863.9" cy="39.7" r="1.15" fill="#2F7D4F" stroke="#3A4A44" stroke-width="0.8"/><circle cx="899.1" cy="47.6" r="1.15" fill="#2F7D4F" stroke="#3A4A44" stroke-width="0.8"/><circle cx="922.2" cy="58.0" r="1.15" fill="#2F7D4F" stroke="#3A4A44" stroke-width="0.8"/><circle cx="906.1" cy="100.7" r="1.15" fill="#2F7D4F" stroke="#3A4A44" stroke-width="0.8"/><circle cx="850.6" cy="115.1" r="1.15" fill="#2F7D4F" stroke="#3A4A44" stroke-width="0.8"/><circle cx="886.9" cy="127.7" r="1.15" fill="#2F7D4F" stroke="#3A4A44" stroke-width="0.8"/><circle cx="863.5" cy="134.1" r="1.15" fill="#2F7D4F" stroke="#3A4A44" stroke-width="0.8"/><circle cx="963.5" cy="133.6" r="1.15" fill="#2F7D4F" stroke="#3A4A44" stroke-width="0.8"/><circle cx="917.2" cy="137.0" r="1.15" fill="#2F7D4F" stroke="#3A4A44" stroke-width="0.8"/><circle cx="900.0" cy="142.2" r="1.15" fill="#2F7D4F" stroke="#3A4A44" stroke-width="0.8"/><circle cx="946.1" cy="148.1" r="1.15" fill="#2F7D4F" stroke="#3A4A44" stroke-width="0.8"/><circle cx="843.6" cy="181.7" r="1.15" fill="#2F7D4F" stroke="#3A4A44" stroke-width="0.8"/><circle cx="852.9" cy="186.0" r="1.15" fill="#2F7D4F" stroke="#3A4A44" stroke-width="0.8"/><circle cx="854.9" cy="192.5" r="1.15" fill="#2F7D4F" stroke="#3A4A44" stroke-width="0.8"/><circle cx="843.8" cy="193.4" r="1.15" fill="#2F7D4F" stroke="#3A4A44" stroke-width="0.8"/><circle cx="835.2" cy="191.4" r="1.15" fill="#2F7D4F" stroke="#3A4A44" stroke-width="0.8"/><circle cx="846.1" cy="198.2" r="1.15" fill="#2F7D4F" stroke="#3A4A44" stroke-width="0.8"/><circle cx="847.0" cy="200.9" r="1.15" fill="#2F7D4F" stroke="#3A4A44" stroke-width="0.8"/><circle cx="854.7" cy="203.4" r="1.15" fill="#2F7D4F" stroke="#3A4A44" stroke-width="0.8"/><circle cx="858.9" cy="204.5" r="1.15" fill="#2F7D4F" stroke="#3A4A44" stroke-width="0.8"/><circle cx="863.7" cy="204.0" r="1.15" fill="#2F7D4F" stroke="#3A4A44" stroke-width="0.8"/><circle cx="879.3" cy="204.0" r="1.15" fill="#2F7D4F" stroke="#3A4A44" stroke-width="0.8"/><circle cx="880.6" cy="204.5" r="1.15" fill="#2F7D4F" stroke="#3A4A44" stroke-width="0.8"/><circle cx="895.7" cy="204.3" r="1.15" fill="#2F7D4F" stroke="#3A4A44" stroke-width="0.8"/><circle cx="905.2" cy="204.5" r="1.15" fill="#2F7D4F" stroke="#3A4A44" stroke-width="0.8"/><circle cx="930.5" cy="202.9" r="1.15" fill="#2F7D4F" stroke="#3A4A44" stroke-width="0.8"/><circle cx="838.0" cy="196.5" r="1.15" fill="#2F7D4F" stroke="#3A4A44" stroke-width="0.8"/><circle cx="840.0" cy="203.5" r="1.15" fill="#2F7D4F" stroke="#3A4A44" stroke-width="0.8"/><circle cx="843.0" cy="204.4" r="1.15" fill="#2F7D4F" stroke="#3A4A44" stroke-width="0.8"/><path d="M842.7 91.6L844.2 94.3H841.2Z" fill="#3A6B98" stroke="#3C4650" stroke-width="0.7"/><path d="M838.6 98.6L840.1 101.3H837.1Z" fill="#3A6B98" stroke="#3C4650" stroke-width="0.7"/><path d="M851.7 119.1L853.2 121.8H850.2Z" fill="#3A6B98" stroke="#3C4650" stroke-width="0.7"/><path d="M842.5 125.9L844.0 128.6H841.0Z" fill="#3A6B98" stroke="#3C4650" stroke-width="0.7"/><path d="M834.8 128.4L836.3 131.1H833.3Z" fill="#3A6B98" stroke="#3C4650" stroke-width="0.7"/><path d="M857.8 131.8L859.3 134.5H856.3Z" fill="#3A6B98" stroke="#3C4650" stroke-width="0.7"/><path d="M853.3 140.1L854.8 142.8H851.8Z" fill="#3A6B98" stroke="#3C4650" stroke-width="0.7"/><path d="M845.4 147.4L846.9 150.1H843.9Z" fill="#3A6B98" stroke="#3C4650" stroke-width="0.7"/><path d="M828.0 162.0L829.5 164.7H826.5Z" fill="#3A6B98" stroke="#3C4650" stroke-width="0.7"/><path d="M852.2 162.3L853.7 165.0H850.7Z" fill="#3A6B98" stroke="#3C4650" stroke-width="0.7"/><path d="M817.9 167.7L819.4 170.4H816.4Z" fill="#3A6B98" stroke="#3C4650" stroke-width="0.7"/><path d="M828.0 172.9L829.5 175.6H826.5Z" fill="#3A6B98" stroke="#3C4650" stroke-width="0.7"/><path d="M817.2 175.1L818.7 177.8H815.7Z" fill="#3A6B98" stroke="#3C4650" stroke-width="0.7"/><path d="M818.0 176.4L819.5 179.1H816.5Z" fill="#3A6B98" stroke="#3C4650" stroke-width="0.7"/><path d="M825.1 177.4L826.6 180.1H823.6Z" fill="#3A6B98" stroke="#3C4650" stroke-width="0.7"/><path d="M831.4 177.4L832.9 180.1H829.9Z" fill="#3A6B98" stroke="#3C4650" stroke-width="0.7"/><path d="M835.2 178.1L836.7 180.8H833.7Z" fill="#3A6B98" stroke="#3C4650" stroke-width="0.7"/><path d="M822.4 184.2L823.9 186.9H820.9Z" fill="#3A6B98" stroke="#3C4650" stroke-width="0.7"/><path d="M810.9 192.1L812.4 194.8H809.4Z" fill="#3A6B98" stroke="#3C4650" stroke-width="0.7"/><path d="M820.6 189.8L822.1 192.5H819.1Z" fill="#3A6B98" stroke="#3C4650" stroke-width="0.7"/><path d="M826.2 190.9L827.7 193.6H824.7Z" fill="#3A6B98" stroke="#3C4650" stroke-width="0.7"/><path d="M814.0 194.4L815.5 197.1H812.5Z" fill="#3A6B98" stroke="#3C4650" stroke-width="0.7"/><path d="M818.0 196.4L819.5 199.1H816.5Z" fill="#3A6B98" stroke="#3C4650" stroke-width="0.7"/><path d="M823.0 197.9L824.5 200.6H821.5Z" fill="#3A6B98" stroke="#3C4650" stroke-width="0.7"/><path d="M829.0 197.4L830.5 200.1H827.5Z" fill="#3A6B98" stroke="#3C4650" stroke-width="0.7"/><path d="M833.0 198.9L834.5 201.6H831.5Z" fill="#3A6B98" stroke="#3C4650" stroke-width="0.7"/><path d="M836.0 196.4L837.5 199.1H834.5Z" fill="#3A6B98" stroke="#3C4650" stroke-width="0.7"/></g>
<path d="M809.3 204.9L858.9 145.1" stroke="#3A6B98" stroke-width="1.7" stroke-linecap="butt"/><path d="M809.3 204.9L858.9 145.1" stroke="#3E5066" stroke-width="0.8"/>
<path d="M813 204.3L963.5 112.6" stroke="#2F7D4F" stroke-width="1.7" stroke-linecap="butt"/><path d="M813 204.3L963.5 112.6" stroke="#3A5446" stroke-width="0.8"/>
<rect x="799.8" y="31.6" width="186.60000000000002" height="183.9" fill="none" stroke="#6E6E6E" stroke-width="1"/>
<text x="809.66" y="226.00" font-size="7.2" text-anchor="middle" fill="#2C2C2C" stroke="#2C2C2C" stroke-width="0.16">0e+00</text>
<text x="851.18" y="226.00" font-size="7.2" text-anchor="middle" fill="#2C2C2C" stroke="#2C2C2C" stroke-width="0.16">2.5e+04</text>
<text x="892.80" y="226.00" font-size="7.2" text-anchor="middle" fill="#2C2C2C" stroke="#2C2C2C" stroke-width="0.16">5e+04</text>
<text x="934.43" y="226.00" font-size="7.2" text-anchor="middle" fill="#2C2C2C" stroke="#2C2C2C" stroke-width="0.16">7.5e+04</text>
<text x="975.95" y="226.00" font-size="7.2" text-anchor="middle" fill="#2C2C2C" stroke="#2C2C2C" stroke-width="0.16">1e+05</text>
<text x="795.20" y="57.70" font-size="7.2" text-anchor="end" fill="#2C2C2C" stroke="#2C2C2C" stroke-width="0.16">2e-02</text>
<text x="795.20" y="95.40" font-size="7.2" text-anchor="end" fill="#2C2C2C" stroke="#2C2C2C" stroke-width="0.16">1.5e-02</text>
<text x="795.20" y="133.30" font-size="7.2" text-anchor="end" fill="#2C2C2C" stroke="#2C2C2C" stroke-width="0.16">1e-02</text>
<text x="795.20" y="171.20" font-size="7.2" text-anchor="end" fill="#2C2C2C" stroke="#2C2C2C" stroke-width="0.16">0.5e-02</text>
<text x="795.20" y="209.00" font-size="7.2" text-anchor="end" fill="#2C2C2C" stroke="#2C2C2C" stroke-width="0.16">0e+00</text>
<path d="M808.3 216.0v2.6M850.5 216.0v2.6M892.8 216.0v2.6M935.1 216.0v2.6M977.3 216.0v2.6M799.3 55.1h-2.6M799.3 92.8h-2.6M799.3 130.7h-2.6M799.3 168.6h-2.6M799.3 206.4h-2.6" stroke="#555" stroke-width="0.8"/>
<text x="804.80" y="44.70" font-size="10.5" font-weight="bold" fill="#436C94" stroke="#436C94" stroke-width="0.23">Cor = 0.58</text>
<text x="804.60" y="55.60" font-size="10.5" font-weight="bold" font-style="italic" fill="#436C94" stroke="#436C94" stroke-width="0.23">p &lt; 0.0001</text>
<text x="954.70" y="181.20" font-size="10.5" text-anchor="middle" font-weight="bold" fill="#2F7D4F" stroke="#2F7D4F" stroke-width="0.23">Cor = 0.52</text>
<text x="955.00" y="193.00" font-size="10.5" text-anchor="middle" font-weight="bold" font-style="italic" fill="#2F7D4F" stroke="#2F7D4F" stroke-width="0.23">p = 0.00042</text>
<text x="561.90" y="254.40" font-size="14.55" fill="#000" stroke="#000" stroke-width="0.32">Angiogenesis –  Cortex</text>
<g><path d="M572.2 430.2L573.7 432.9H570.7Z" fill="#3A6B98" stroke="#3C4650" stroke-width="0.7"/><path d="M573.5 428.6L575.0 431.3H572.0Z" fill="#3A6B98" stroke="#3C4650" stroke-width="0.7"/><path d="M575.3 423.5L576.8 426.2H573.8Z" fill="#3A6B98" stroke="#3C4650" stroke-width="0.7"/><path d="M571.3 432.3L572.8 435.0H569.8Z" fill="#3A6B98" stroke="#3C4650" stroke-width="0.7"/><path d="M571.8 429.5L573.3 432.2H570.3Z" fill="#3A6B98" stroke="#3C4650" stroke-width="0.7"/><path d="M581.8 416.4L583.3 419.1H580.3Z" fill="#3A6B98" stroke="#3C4650" stroke-width="0.7"/><path d="M579.3 420.0L580.8 422.7H577.8Z" fill="#3A6B98" stroke="#3C4650" stroke-width="0.7"/><path d="M575.6 423.4L577.1 426.1H574.1Z" fill="#3A6B98" stroke="#3C4650" stroke-width="0.7"/><path d="M577.4 424.8L578.9 427.5H575.9Z" fill="#3A6B98" stroke="#3C4650" stroke-width="0.7"/><path d="M575.6 426.4L577.1 429.1H574.1Z" fill="#3A6B98" stroke="#3C4650" stroke-width="0.7"/><path d="M575.8 422.6L577.3 425.3H574.3Z" fill="#3A6B98" stroke="#3C4650" stroke-width="0.7"/><path d="M578.5 421.9L580.0 424.6H577.0Z" fill="#3A6B98" stroke="#3C4650" stroke-width="0.7"/><path d="M571.8 428.8L573.3 431.5H570.3Z" fill="#3A6B98" stroke="#3C4650" stroke-width="0.7"/><path d="M579.7 419.4L581.2 422.1H578.2Z" fill="#3A6B98" stroke="#3C4650" stroke-width="0.7"/><path d="M578.7 423.2L580.2 425.9H577.2Z" fill="#3A6B98" stroke="#3C4650" stroke-width="0.7"/><path d="M578.7 423.4L580.2 426.1H577.2Z" fill="#3A6B98" stroke="#3C4650" stroke-width="0.7"/><path d="M574.2 428.5L575.7 431.2H572.7Z" fill="#3A6B98" stroke="#3C4650" stroke-width="0.7"/><path d="M575.0 428.0L576.5 430.7H573.5Z" fill="#3A6B98" stroke="#3C4650" stroke-width="0.7"/><path d="M578.7 418.2L580.2 420.9H577.2Z" fill="#3A6B98" stroke="#3C4650" stroke-width="0.7"/><path d="M570.9 430.8L572.4 433.5H569.4Z" fill="#3A6B98" stroke="#3C4650" stroke-width="0.7"/><path d="M581.2 417.1L582.7 419.8H579.7Z" fill="#3A6B98" stroke="#3C4650" stroke-width="0.7"/><path d="M575.9 423.9L577.4 426.6H574.4Z" fill="#3A6B98" stroke="#3C4650" stroke-width="0.7"/><path d="M574.6 426.1L576.1 428.8H573.1Z" fill="#3A6B98" stroke="#3C4650" stroke-width="0.7"/><path d="M573.3 428.8L574.8 431.5H571.8Z" fill="#3A6B98" stroke="#3C4650" stroke-width="0.7"/><path d="M576.8 425.7L578.3 428.4H575.3Z" fill="#3A6B98" stroke="#3C4650" stroke-width="0.7"/><path d="M578.2 424.0L579.7 426.7H576.7Z" fill="#3A6B98" stroke="#3C4650" stroke-width="0.7"/><path d="M581.2 420.7L582.7 423.4H579.7Z" fill="#3A6B98" stroke="#3C4650" stroke-width="0.7"/><path d="M576.1 422.8L577.6 425.5H574.6Z" fill="#3A6B98" stroke="#3C4650" stroke-width="0.7"/><circle cx="584.9" cy="432.7" r="1.15" fill="#2F7D4F" stroke="#3A4A44" stroke-width="0.8"/><circle cx="585.7" cy="431.5" r="1.15" fill="#2F7D4F" stroke="#3A4A44" stroke-width="0.8"/><circle cx="581.4" cy="431.3" r="1.15" fill="#2F7D4F" stroke="#3A4A44" stroke-width="0.8"/><circle cx="584.0" cy="431.8" r="1.15" fill="#2F7D4F" stroke="#3A4A44" stroke-width="0.8"/><circle cx="573.9" cy="432.5" r="1.15" fill="#2F7D4F" stroke="#3A4A44" stroke-width="0.8"/><circle cx="584.7" cy="432.8" r="1.15" fill="#2F7D4F" stroke="#3A4A44" stroke-width="0.8"/><circle cx="572.0" cy="433.8" r="1.15" fill="#2F7D4F" stroke="#3A4A44" stroke-width="0.8"/><circle cx="575.8" cy="432.3" r="1.15" fill="#2F7D4F" stroke="#3A4A44" stroke-width="0.8"/><circle cx="574.2" cy="433.5" r="1.15" fill="#2F7D4F" stroke="#3A4A44" stroke-width="0.8"/><circle cx="584.8" cy="430.3" r="1.15" fill="#2F7D4F" stroke="#3A4A44" stroke-width="0.8"/><circle cx="579.3" cy="431.4" r="1.15" fill="#2F7D4F" stroke="#3A4A44" stroke-width="0.8"/><circle cx="581.5" cy="431.6" r="1.15" fill="#2F7D4F" stroke="#3A4A44" stroke-width="0.8"/><circle cx="585.3" cy="432.7" r="1.15" fill="#2F7D4F" stroke="#3A4A44" stroke-width="0.8"/><circle cx="577.6" cy="433.5" r="1.15" fill="#2F7D4F" stroke="#3A4A44" stroke-width="0.8"/><circle cx="574.2" cy="432.4" r="1.15" fill="#2F7D4F" stroke="#3A4A44" stroke-width="0.8"/><circle cx="579.0" cy="431.4" r="1.15" fill="#2F7D4F" stroke="#3A4A44" stroke-width="0.8"/><circle cx="572.9" cy="433.2" r="1.15" fill="#2F7D4F" stroke="#3A4A44" stroke-width="0.8"/><circle cx="579.3" cy="431.6" r="1.15" fill="#2F7D4F" stroke="#3A4A44" stroke-width="0.8"/><circle cx="571.7" cy="433.9" r="1.15" fill="#2F7D4F" stroke="#3A4A44" stroke-width="0.8"/><circle cx="574.5" cy="433.7" r="1.15" fill="#2F7D4F" stroke="#3A4A44" stroke-width="0.8"/><circle cx="585.5" cy="431.0" r="1.15" fill="#2F7D4F" stroke="#3A4A44" stroke-width="0.8"/><circle cx="576.7" cy="432.8" r="1.15" fill="#2F7D4F" stroke="#3A4A44" stroke-width="0.8"/><path d="M583.5 411.0L585.0 413.7H582.0Z" fill="#3A6B98" stroke="#3C4650" stroke-width="0.7"/><path d="M582.2 412.5L583.7 415.2H580.7Z" fill="#3A6B98" stroke="#3C4650" stroke-width="0.7"/><path d="M588.8 404.8L590.3 407.5H587.3Z" fill="#3A6B98" stroke="#3C4650" stroke-width="0.7"/><path d="M580.5 414.7L582.0 417.4H579.0Z" fill="#3A6B98" stroke="#3C4650" stroke-width="0.7"/><path d="M577.2 416.3L578.7 419.0H575.7Z" fill="#3A6B98" stroke="#3C4650" stroke-width="0.7"/><path d="M589.6 404.0L591.1 406.7H588.1Z" fill="#3A6B98" stroke="#3C4650" stroke-width="0.7"/><path d="M580.3 411.0L581.8 413.7H578.8Z" fill="#3A6B98" stroke="#3C4650" stroke-width="0.7"/><path d="M579.9 414.6L581.4 417.3H578.4Z" fill="#3A6B98" stroke="#3C4650" stroke-width="0.7"/><path d="M570.3 430.7L571.8 433.4H568.8Z" fill="#3A6B98" stroke="#3C4650" stroke-width="0.7"/><path d="M574.8 425.9L576.3 428.6H573.3Z" fill="#3A6B98" stroke="#3C4650" stroke-width="0.7"/><path d="M574.8 429.4L576.3 432.1H573.3Z" fill="#3A6B98" stroke="#3C4650" stroke-width="0.7"/><path d="M575.2 428.4L576.7 431.1H573.7Z" fill="#3A6B98" stroke="#3C4650" stroke-width="0.7"/><path d="M575.4 431.7L576.9 434.4H573.9Z" fill="#3A6B98" stroke="#3C4650" stroke-width="0.7"/><path d="M570.4 425.9L571.9 428.6H568.9Z" fill="#3A6B98" stroke="#3C4650" stroke-width="0.7"/><path d="M575.1 433.6L576.6 436.3H573.6Z" fill="#3A6B98" stroke="#3C4650" stroke-width="0.7"/><path d="M572.0 429.3L573.5 432.0H570.5Z" fill="#3A6B98" stroke="#3C4650" stroke-width="0.7"/><path d="M574.5 428.1L576.0 430.8H573.0Z" fill="#3A6B98" stroke="#3C4650" stroke-width="0.7"/><path d="M572.9 428.1L574.4 430.8H571.4Z" fill="#3A6B98" stroke="#3C4650" stroke-width="0.7"/><path d="M572.9 430.5L574.4 433.2H571.4Z" fill="#3A6B98" stroke="#3C4650" stroke-width="0.7"/><path d="M572.4 428.6L573.9 431.3H570.9Z" fill="#3A6B98" stroke="#3C4650" stroke-width="0.7"/><path d="M575.8 425.7L577.3 428.4H574.3Z" fill="#3A6B98" stroke="#3C4650" stroke-width="0.7"/><path d="M574.4 431.7L575.9 434.4H572.9Z" fill="#3A6B98" stroke="#3C4650" stroke-width="0.7"/><circle cx="580.1" cy="431.6" r="1.15" fill="#2F7D4F" stroke="#3A4A44" stroke-width="0.8"/><circle cx="585.7" cy="431.7" r="1.15" fill="#2F7D4F" stroke="#3A4A44" stroke-width="0.8"/><circle cx="578.7" cy="432.7" r="1.15" fill="#2F7D4F" stroke="#3A4A44" stroke-width="0.8"/><circle cx="584.5" cy="431.0" r="1.15" fill="#2F7D4F" stroke="#3A4A44" stroke-width="0.8"/><circle cx="580.2" cy="432.2" r="1.15" fill="#2F7D4F" stroke="#3A4A44" stroke-width="0.8"/><circle cx="586.1" cy="432.7" r="1.15" fill="#2F7D4F" stroke="#3A4A44" stroke-width="0.8"/><circle cx="586.3" cy="431.3" r="1.15" fill="#2F7D4F" stroke="#3A4A44" stroke-width="0.8"/><circle cx="580.4" cy="433.8" r="1.15" fill="#2F7D4F" stroke="#3A4A44" stroke-width="0.8"/><circle cx="586.7" cy="432.8" r="1.15" fill="#2F7D4F" stroke="#3A4A44" stroke-width="0.8"/><circle cx="579.1" cy="431.1" r="1.15" fill="#2F7D4F" stroke="#3A4A44" stroke-width="0.8"/><circle cx="582.6" cy="431.5" r="1.15" fill="#2F7D4F" stroke="#3A4A44" stroke-width="0.8"/><circle cx="585.8" cy="434.7" r="1.15" fill="#2F7D4F" stroke="#3A4A44" stroke-width="0.8"/><circle cx="578.6" cy="431.9" r="1.15" fill="#2F7D4F" stroke="#3A4A44" stroke-width="0.8"/><circle cx="585.8" cy="433.7" r="1.15" fill="#2F7D4F" stroke="#3A4A44" stroke-width="0.8"/><circle cx="662.3" cy="268.6" r="1.15" fill="#2F7D4F" stroke="#3A4A44" stroke-width="0.8"/><circle cx="676.0" cy="300.9" r="1.15" fill="#2F7D4F" stroke="#3A4A44" stroke-width="0.8"/><circle cx="704.7" cy="325.5" r="1.15" fill="#2F7D4F" stroke="#3A4A44" stroke-width="0.8"/><circle cx="594.3" cy="352.6" r="1.15" fill="#2F7D4F" stroke="#3A4A44" stroke-width="0.8"/><circle cx="718.9" cy="358.6" r="1.15" fill="#2F7D4F" stroke="#3A4A44" stroke-width="0.8"/><circle cx="681.2" cy="381.9" r="1.15" fill="#2F7D4F" stroke="#3A4A44" stroke-width="0.8"/><circle cx="643.5" cy="400.4" r="1.15" fill="#2F7D4F" stroke="#3A4A44" stroke-width="0.8"/><circle cx="622.3" cy="426.4" r="1.15" fill="#2F7D4F" stroke="#3A4A44" stroke-width="0.8"/><circle cx="610.8" cy="429.5" r="1.15" fill="#2F7D4F" stroke="#3A4A44" stroke-width="0.8"/><circle cx="604.7" cy="427.7" r="1.15" fill="#2F7D4F" stroke="#3A4A44" stroke-width="0.8"/><circle cx="597.2" cy="433.4" r="1.15" fill="#2F7D4F" stroke="#3A4A44" stroke-width="0.8"/><circle cx="602.4" cy="433.4" r="1.15" fill="#2F7D4F" stroke="#3A4A44" stroke-width="0.8"/><circle cx="588.2" cy="428.2" r="1.15" fill="#2F7D4F" stroke="#3A4A44" stroke-width="0.8"/><circle cx="591.6" cy="428.2" r="1.15" fill="#2F7D4F" stroke="#3A4A44" stroke-width="0.8"/><path d="M606.0 368.1L607.5 370.8H604.5Z" fill="#3A6B98" stroke="#3C4650" stroke-width="0.7"/><path d="M600.2 374.7L601.7 377.4H598.7Z" fill="#3A6B98" stroke="#3C4650" stroke-width="0.7"/><path d="M610.1 373.8L611.6 376.5H608.6Z" fill="#3A6B98" stroke="#3C4650" stroke-width="0.7"/><path d="M575.8 397.2L577.3 399.9H574.3Z" fill="#3A6B98" stroke="#3C4650" stroke-width="0.7"/><path d="M584.2 402.2L585.7 404.9H582.7Z" fill="#3A6B98" stroke="#3C4650" stroke-width="0.7"/><path d="M588.2 405.1L589.7 407.8H586.7Z" fill="#3A6B98" stroke="#3C4650" stroke-width="0.7"/><path d="M581.9 408.5L583.4 411.2H580.4Z" fill="#3A6B98" stroke="#3C4650" stroke-width="0.7"/><path d="M574.7 411.9L576.2 414.6H573.2Z" fill="#3A6B98" stroke="#3C4650" stroke-width="0.7"/><path d="M589.3 407.4L590.8 410.1H587.8Z" fill="#3A6B98" stroke="#3C4650" stroke-width="0.7"/><path d="M587.1 414.2L588.6 416.9H585.6Z" fill="#3A6B98" stroke="#3C4650" stroke-width="0.7"/><path d="M593.9 414.2L595.4 416.9H592.4Z" fill="#3A6B98" stroke="#3C4650" stroke-width="0.7"/><path d="M602.4 416.4L603.9 419.1H600.9Z" fill="#3A6B98" stroke="#3C4650" stroke-width="0.7"/><path d="M573.5 418.7L575.0 421.4H572.0Z" fill="#3A6B98" stroke="#3C4650" stroke-width="0.7"/><path d="M575.8 419.8L577.3 422.5H574.3Z" fill="#3A6B98" stroke="#3C4650" stroke-width="0.7"/><path d="M580.3 419.1L581.8 421.8H578.8Z" fill="#3A6B98" stroke="#3C4650" stroke-width="0.7"/><path d="M577.0 410.4L578.5 413.1H575.5Z" fill="#3A6B98" stroke="#3C4650" stroke-width="0.7"/><path d="M579.0 414.4L580.5 417.1H577.5Z" fill="#3A6B98" stroke="#3C4650" stroke-width="0.7"/><path d="M583.0 412.4L584.5 415.1H581.5Z" fill="#3A6B98" stroke="#3C4650" stroke-width="0.7"/><path d="M585.0 417.4L586.5 420.1H583.5Z" fill="#3A6B98" stroke="#3C4650" stroke-width="0.7"/></g>
<path d="M571.3 432.7L610.1 384.8" stroke="#3A6B98" stroke-width="1.7" stroke-linecap="butt"/><path d="M571.3 432.7L610.1 384.8" stroke="#3E5066" stroke-width="0.8"/>
<path d="M573.5 433.8L718.9 318" stroke="#2F7D4F" stroke-width="1.7" stroke-linecap="butt"/><path d="M573.5 433.8L718.9 318" stroke="#3A5446" stroke-width="0.8"/>
<rect x="562.4" y="261.2" width="186.10000000000002" height="182.90000000000003" fill="none" stroke="#6E6E6E" stroke-width="1"/>
<text x="571.96" y="454.60" font-size="7.2" text-anchor="middle" fill="#2C2C2C" stroke="#2C2C2C" stroke-width="0.16">0e+00</text>
<text x="605.32" y="454.60" font-size="7.2" text-anchor="middle" fill="#2C2C2C" stroke="#2C2C2C" stroke-width="0.16">1e+05</text>
<text x="638.77" y="454.60" font-size="7.2" text-anchor="middle" fill="#2C2C2C" stroke="#2C2C2C" stroke-width="0.16">2e+05</text>
<text x="672.13" y="454.60" font-size="7.2" text-anchor="middle" fill="#2C2C2C" stroke="#2C2C2C" stroke-width="0.16">3e+05</text>
<text x="705.49" y="454.60" font-size="7.2" text-anchor="middle" fill="#2C2C2C" stroke="#2C2C2C" stroke-width="0.16">4e+05</text>
<text x="738.75" y="454.60" font-size="7.2" text-anchor="middle" fill="#2C2C2C" stroke="#2C2C2C" stroke-width="0.16">5e+05</text>
<text x="557.80" y="296.40" font-size="7.2" text-anchor="end" fill="#2C2C2C" stroke="#2C2C2C" stroke-width="0.16">4e-02</text>
<text x="557.80" y="331.40" font-size="7.2" text-anchor="end" fill="#2C2C2C" stroke="#2C2C2C" stroke-width="0.16">3e-02</text>
<text x="557.80" y="366.40" font-size="7.2" text-anchor="end" fill="#2C2C2C" stroke="#2C2C2C" stroke-width="0.16">2e-02</text>
<text x="557.80" y="401.40" font-size="7.2" text-anchor="end" fill="#2C2C2C" stroke="#2C2C2C" stroke-width="0.16">1e-02</text>
<text x="557.80" y="436.40" font-size="7.2" text-anchor="end" fill="#2C2C2C" stroke="#2C2C2C" stroke-width="0.16">0e+00</text>
<path d="M570.6 444.6v2.6M604.5 444.6v2.6M638.5 444.6v2.6M672.4 444.6v2.6M706.3 444.6v2.6M740.1 444.6v2.6M561.9 293.8h-2.6M561.9 328.8h-2.6M561.9 363.8h-2.6M561.9 398.8h-2.6M561.9 433.8h-2.6" stroke="#555" stroke-width="0.8"/>
<text x="742.40" y="274.20" font-size="10.5" text-anchor="end" font-weight="bold" fill="#436C94" stroke="#436C94" stroke-width="0.23">Cor = 0.77</text>
<text x="742.40" y="285.30" font-size="10.5" text-anchor="end" font-weight="bold" font-style="italic" fill="#436C94" stroke="#436C94" stroke-width="0.23">p &lt; 0.0001</text>
<text x="742.40" y="422.50" font-size="10.5" text-anchor="end" font-weight="bold" fill="#2F7D4F" stroke="#2F7D4F" stroke-width="0.23">Cor = 0.76</text>
<text x="742.40" y="433.40" font-size="10.5" text-anchor="end" font-weight="bold" font-style="italic" fill="#2F7D4F" stroke="#2F7D4F" stroke-width="0.23">p &lt; 0.0001</text>
<text x="799.30" y="254.00" font-size="14.55" fill="#000" stroke="#000" stroke-width="0.32">Angiogenesis – Medulla</text>
<g><path d="M808.3 426.4L809.8 429.1H806.8Z" fill="#3A6B98" stroke="#3C4650" stroke-width="0.7"/><path d="M810.1 424.1L811.6 426.8H808.6Z" fill="#3A6B98" stroke="#3C4650" stroke-width="0.7"/><path d="M807.6 428.5L809.1 431.2H806.1Z" fill="#3A6B98" stroke="#3C4650" stroke-width="0.7"/><path d="M819.9 414.3L821.4 417.0H818.4Z" fill="#3A6B98" stroke="#3C4650" stroke-width="0.7"/><path d="M815.4 416.6L816.9 419.3H813.9Z" fill="#3A6B98" stroke="#3C4650" stroke-width="0.7"/><path d="M812.1 421.7L813.6 424.4H810.6Z" fill="#3A6B98" stroke="#3C4650" stroke-width="0.7"/><path d="M807.8 427.2L809.3 429.9H806.3Z" fill="#3A6B98" stroke="#3C4650" stroke-width="0.7"/><path d="M809.5 427.7L811.0 430.4H808.0Z" fill="#3A6B98" stroke="#3C4650" stroke-width="0.7"/><path d="M818.2 416.4L819.7 419.1H816.7Z" fill="#3A6B98" stroke="#3C4650" stroke-width="0.7"/><path d="M815.9 415.7L817.4 418.4H814.4Z" fill="#3A6B98" stroke="#3C4650" stroke-width="0.7"/><path d="M810.0 426.1L811.5 428.8H808.5Z" fill="#3A6B98" stroke="#3C4650" stroke-width="0.7"/><path d="M816.6 418.7L818.1 421.4H815.1Z" fill="#3A6B98" stroke="#3C4650" stroke-width="0.7"/><path d="M816.9 413.5L818.4 416.2H815.4Z" fill="#3A6B98" stroke="#3C4650" stroke-width="0.7"/><path d="M814.0 421.0L815.5 423.7H812.5Z" fill="#3A6B98" stroke="#3C4650" stroke-width="0.7"/><path d="M811.5 422.1L813.0 424.8H810.0Z" fill="#3A6B98" stroke="#3C4650" stroke-width="0.7"/><path d="M810.9 422.6L812.4 425.3H809.4Z" fill="#3A6B98" stroke="#3C4650" stroke-width="0.7"/><path d="M820.5 414.0L822.0 416.7H819.0Z" fill="#3A6B98" stroke="#3C4650" stroke-width="0.7"/><path d="M812.3 421.5L813.8 424.2H810.8Z" fill="#3A6B98" stroke="#3C4650" stroke-width="0.7"/><path d="M819.0 413.9L820.5 416.6H817.5Z" fill="#3A6B98" stroke="#3C4650" stroke-width="0.7"/><path d="M819.4 415.2L820.9 417.9H817.9Z" fill="#3A6B98" stroke="#3C4650" stroke-width="0.7"/><path d="M812.0 422.4L813.5 425.1H810.5Z" fill="#3A6B98" stroke="#3C4650" stroke-width="0.7"/><path d="M813.4 420.7L814.9 423.4H811.9Z" fill="#3A6B98" stroke="#3C4650" stroke-width="0.7"/><path d="M808.0 427.6L809.5 430.3H806.5Z" fill="#3A6B98" stroke="#3C4650" stroke-width="0.7"/><path d="M815.7 415.1L817.2 417.8H814.2Z" fill="#3A6B98" stroke="#3C4650" stroke-width="0.7"/><path d="M807.8 428.9L809.3 431.6H806.3Z" fill="#3A6B98" stroke="#3C4650" stroke-width="0.7"/><path d="M809.5 426.4L811.0 429.1H808.0Z" fill="#3A6B98" stroke="#3C4650" stroke-width="0.7"/><path d="M811.4 423.0L812.9 425.7H809.9Z" fill="#3A6B98" stroke="#3C4650" stroke-width="0.7"/><path d="M819.4 410.7L820.9 413.4H817.9Z" fill="#3A6B98" stroke="#3C4650" stroke-width="0.7"/><path d="M810.4 423.8L811.9 426.5H808.9Z" fill="#3A6B98" stroke="#3C4650" stroke-width="0.7"/><path d="M813.5 419.7L815.0 422.4H812.0Z" fill="#3A6B98" stroke="#3C4650" stroke-width="0.7"/><path d="M810.7 425.6L812.2 428.3H809.2Z" fill="#3A6B98" stroke="#3C4650" stroke-width="0.7"/><path d="M810.0 425.8L811.5 428.5H808.5Z" fill="#3A6B98" stroke="#3C4650" stroke-width="0.7"/><path d="M817.4 412.9L818.9 415.6H815.9Z" fill="#3A6B98" stroke="#3C4650" stroke-width="0.7"/><path d="M807.3 428.4L808.8 431.1H805.8Z" fill="#3A6B98" stroke="#3C4650" stroke-width="0.7"/><circle cx="831.4" cy="431.0" r="1.15" fill="#2F7D4F" stroke="#3A4A44" stroke-width="0.8"/><circle cx="815.4" cy="430.8" r="1.15" fill="#2F7D4F" stroke="#3A4A44" stroke-width="0.8"/><circle cx="814.2" cy="430.9" r="1.15" fill="#2F7D4F" stroke="#3A4A44" stroke-width="0.8"/><circle cx="812.3" cy="431.0" r="1.15" fill="#2F7D4F" stroke="#3A4A44" stroke-width="0.8"/><circle cx="836.6" cy="431.4" r="1.15" fill="#2F7D4F" stroke="#3A4A44" stroke-width="0.8"/><circle cx="830.3" cy="431.3" r="1.15" fill="#2F7D4F" stroke="#3A4A44" stroke-width="0.8"/><circle cx="812.1" cy="430.8" r="1.15" fill="#2F7D4F" stroke="#3A4A44" stroke-width="0.8"/><circle cx="839.5" cy="431.2" r="1.15" fill="#2F7D4F" stroke="#3A4A44" stroke-width="0.8"/><circle cx="819.6" cy="431.2" r="1.15" fill="#2F7D4F" stroke="#3A4A44" stroke-width="0.8"/><circle cx="826.2" cy="431.2" r="1.15" fill="#2F7D4F" stroke="#3A4A44" stroke-width="0.8"/><circle cx="816.6" cy="430.7" r="1.15" fill="#2F7D4F" stroke="#3A4A44" stroke-width="0.8"/><circle cx="820.6" cy="430.6" r="1.15" fill="#2F7D4F" stroke="#3A4A44" stroke-width="0.8"/><circle cx="818.8" cy="431.2" r="1.15" fill="#2F7D4F" stroke="#3A4A44" stroke-width="0.8"/><circle cx="817.5" cy="430.6" r="1.15" fill="#2F7D4F" stroke="#3A4A44" stroke-width="0.8"/><circle cx="812.3" cy="430.7" r="1.15" fill="#2F7D4F" stroke="#3A4A44" stroke-width="0.8"/><circle cx="832.1" cy="430.8" r="1.15" fill="#2F7D4F" stroke="#3A4A44" stroke-width="0.8"/><circle cx="816.5" cy="430.7" r="1.15" fill="#2F7D4F" stroke="#3A4A44" stroke-width="0.8"/><circle cx="840.2" cy="430.8" r="1.15" fill="#2F7D4F" stroke="#3A4A44" stroke-width="0.8"/><circle cx="814.7" cy="430.7" r="1.15" fill="#2F7D4F" stroke="#3A4A44" stroke-width="0.8"/><circle cx="812.4" cy="430.7" r="1.15" fill="#2F7D4F" stroke="#3A4A44" stroke-width="0.8"/><circle cx="828.1" cy="430.6" r="1.15" fill="#2F7D4F" stroke="#3A4A44" stroke-width="0.8"/><circle cx="812.2" cy="430.9" r="1.15" fill="#2F7D4F" stroke="#3A4A44" stroke-width="0.8"/><circle cx="815.6" cy="431.2" r="1.15" fill="#2F7D4F" stroke="#3A4A44" stroke-width="0.8"/><circle cx="813.2" cy="430.9" r="1.15" fill="#2F7D4F" stroke="#3A4A44" stroke-width="0.8"/><circle cx="831.7" cy="430.8" r="1.15" fill="#2F7D4F" stroke="#3A4A44" stroke-width="0.8"/><circle cx="840.5" cy="430.9" r="1.15" fill="#2F7D4F" stroke="#3A4A44" stroke-width="0.8"/><circle cx="815.4" cy="430.8" r="1.15" fill="#2F7D4F" stroke="#3A4A44" stroke-width="0.8"/><circle cx="812.2" cy="430.9" r="1.15" fill="#2F7D4F" stroke="#3A4A44" stroke-width="0.8"/><circle cx="815.6" cy="431.1" r="1.15" fill="#2F7D4F" stroke="#3A4A44" stroke-width="0.8"/><circle cx="834.0" cy="430.9" r="1.15" fill="#2F7D4F" stroke="#3A4A44" stroke-width="0.8"/><circle cx="808.9" cy="432.7" r="1.15" fill="#2F7D4F" stroke="#3A4A44" stroke-width="0.8"/><circle cx="810.2" cy="431.6" r="1.15" fill="#2F7D4F" stroke="#3A4A44" stroke-width="0.8"/><circle cx="810.7" cy="432.4" r="1.15" fill="#2F7D4F" stroke="#3A4A44" stroke-width="0.8"/><circle cx="809.3" cy="432.0" r="1.15" fill="#2F7D4F" stroke="#3A4A44" stroke-width="0.8"/><circle cx="819.8" cy="425.1" r="1.15" fill="#2F7D4F" stroke="#3A4A44" stroke-width="0.8"/><circle cx="820.6" cy="423.9" r="1.15" fill="#2F7D4F" stroke="#3A4A44" stroke-width="0.8"/><circle cx="819.5" cy="425.7" r="1.15" fill="#2F7D4F" stroke="#3A4A44" stroke-width="0.8"/><circle cx="817.8" cy="427.2" r="1.15" fill="#2F7D4F" stroke="#3A4A44" stroke-width="0.8"/><circle cx="812.7" cy="429.2" r="1.15" fill="#2F7D4F" stroke="#3A4A44" stroke-width="0.8"/><circle cx="810.5" cy="432.6" r="1.15" fill="#2F7D4F" stroke="#3A4A44" stroke-width="0.8"/><circle cx="820.0" cy="426.3" r="1.15" fill="#2F7D4F" stroke="#3A4A44" stroke-width="0.8"/><circle cx="811.5" cy="431.5" r="1.15" fill="#2F7D4F" stroke="#3A4A44" stroke-width="0.8"/><circle cx="898.5" cy="268.6" r="1.15" fill="#2F7D4F" stroke="#3A4A44" stroke-width="0.8"/><circle cx="885.6" cy="304.5" r="1.15" fill="#2F7D4F" stroke="#3A4A44" stroke-width="0.8"/><circle cx="875.9" cy="312.6" r="1.15" fill="#2F7D4F" stroke="#3A4A44" stroke-width="0.8"/><circle cx="949.2" cy="314.2" r="1.15" fill="#2F7D4F" stroke="#3A4A44" stroke-width="0.8"/><circle cx="892.4" cy="346.5" r="1.15" fill="#2F7D4F" stroke="#3A4A44" stroke-width="0.8"/><circle cx="910.4" cy="348.7" r="1.15" fill="#2F7D4F" stroke="#3A4A44" stroke-width="0.8"/><circle cx="832.5" cy="354.4" r="1.15" fill="#2F7D4F" stroke="#3A4A44" stroke-width="0.8"/><circle cx="823.5" cy="384.4" r="1.15" fill="#2F7D4F" stroke="#3A4A44" stroke-width="0.8"/><circle cx="878.6" cy="393.2" r="1.15" fill="#2F7D4F" stroke="#3A4A44" stroke-width="0.8"/><circle cx="849.2" cy="404.9" r="1.15" fill="#2F7D4F" stroke="#3A4A44" stroke-width="0.8"/><circle cx="842.7" cy="410.8" r="1.15" fill="#2F7D4F" stroke="#3A4A44" stroke-width="0.8"/><circle cx="848.1" cy="412.8" r="1.15" fill="#2F7D4F" stroke="#3A4A44" stroke-width="0.8"/><circle cx="834.8" cy="406.3" r="1.15" fill="#2F7D4F" stroke="#3A4A44" stroke-width="0.8"/><circle cx="835.9" cy="419.8" r="1.15" fill="#2F7D4F" stroke="#3A4A44" stroke-width="0.8"/><circle cx="838.2" cy="424.3" r="1.15" fill="#2F7D4F" stroke="#3A4A44" stroke-width="0.8"/><circle cx="847.7" cy="427.7" r="1.15" fill="#2F7D4F" stroke="#3A4A44" stroke-width="0.8"/><circle cx="868.4" cy="421.6" r="1.15" fill="#2F7D4F" stroke="#3A4A44" stroke-width="0.8"/><circle cx="875.4" cy="424.1" r="1.15" fill="#2F7D4F" stroke="#3A4A44" stroke-width="0.8"/><circle cx="891.2" cy="422.5" r="1.15" fill="#2F7D4F" stroke="#3A4A44" stroke-width="0.8"/><path d="M844.7 274.9L846.2 277.6H843.2Z" fill="#3A6B98" stroke="#3C4650" stroke-width="0.7"/><path d="M856.7 364.0L858.2 366.7H855.2Z" fill="#3A6B98" stroke="#3C4650" stroke-width="0.7"/><path d="M875.9 376.5L877.4 379.2H874.4Z" fill="#3A6B98" stroke="#3C4650" stroke-width="0.7"/><path d="M828.9 388.9L830.4 391.6H827.4Z" fill="#3A6B98" stroke="#3C4650" stroke-width="0.7"/><path d="M829.6 391.1L831.1 393.8H828.1Z" fill="#3A6B98" stroke="#3C4650" stroke-width="0.7"/><path d="M828.0 393.2L829.5 395.9H826.5Z" fill="#3A6B98" stroke="#3C4650" stroke-width="0.7"/><path d="M811.5 404.7L813.0 407.4H810.0Z" fill="#3A6B98" stroke="#3C4650" stroke-width="0.7"/><path d="M812.0 407.4L813.5 410.1H810.5Z" fill="#3A6B98" stroke="#3C4650" stroke-width="0.7"/><path d="M811.5 409.6L813.0 412.3H810.0Z" fill="#3A6B98" stroke="#3C4650" stroke-width="0.7"/><path d="M831.9 408.5L833.4 411.2H830.4Z" fill="#3A6B98" stroke="#3C4650" stroke-width="0.7"/><path d="M817.9 411.9L819.4 414.6H816.4Z" fill="#3A6B98" stroke="#3C4650" stroke-width="0.7"/><path d="M826.2 414.2L827.7 416.9H824.7Z" fill="#3A6B98" stroke="#3C4650" stroke-width="0.7"/><path d="M841.6 416.9L843.1 419.6H840.1Z" fill="#3A6B98" stroke="#3C4650" stroke-width="0.7"/><path d="M856.2 415.7L857.7 418.4H854.7Z" fill="#3A6B98" stroke="#3C4650" stroke-width="0.7"/><path d="M813.8 418.7L815.3 421.4H812.3Z" fill="#3A6B98" stroke="#3C4650" stroke-width="0.7"/><path d="M814.9 420.9L816.4 423.6H813.4Z" fill="#3A6B98" stroke="#3C4650" stroke-width="0.7"/></g>
<path d="M809.3 429.3L875.9 357.7" stroke="#3A6B98" stroke-width="1.7" stroke-linecap="butt"/><path d="M809.3 429.3L875.9 357.7" stroke="#3E5066" stroke-width="0.8"/>
<path d="M809.3 435.6L949.2 307.2" stroke="#2F7D4F" stroke-width="1.7" stroke-linecap="butt"/><path d="M809.3 435.6L949.2 307.2" stroke="#3A5446" stroke-width="0.8"/>
<rect x="799.8" y="260.8" width="186.70000000000005" height="183.3" fill="none" stroke="#6E6E6E" stroke-width="1"/>
<text x="809.56" y="454.60" font-size="7.2" text-anchor="middle" fill="#2C2C2C" stroke="#2C2C2C" stroke-width="0.16">0e+00</text>
<text x="842.82" y="454.60" font-size="7.2" text-anchor="middle" fill="#2C2C2C" stroke="#2C2C2C" stroke-width="0.16">1e+05</text>
<text x="876.18" y="454.60" font-size="7.2" text-anchor="middle" fill="#2C2C2C" stroke="#2C2C2C" stroke-width="0.16">2e+05</text>
<text x="909.44" y="454.60" font-size="7.2" text-anchor="middle" fill="#2C2C2C" stroke="#2C2C2C" stroke-width="0.16">3e+05</text>
<text x="942.79" y="454.60" font-size="7.2" text-anchor="middle" fill="#2C2C2C" stroke="#2C2C2C" stroke-width="0.16">4e+05</text>
<text x="976.25" y="454.60" font-size="7.2" text-anchor="middle" fill="#2C2C2C" stroke="#2C2C2C" stroke-width="0.16">5e+05</text>
<text x="795.20" y="275.20" font-size="7.2" text-anchor="end" fill="#2C2C2C" stroke="#2C2C2C" stroke-width="0.16">5e-02</text>
<text x="795.20" y="307.10" font-size="7.2" text-anchor="end" fill="#2C2C2C" stroke="#2C2C2C" stroke-width="0.16">4e-02</text>
<text x="795.20" y="338.90" font-size="7.2" text-anchor="end" fill="#2C2C2C" stroke="#2C2C2C" stroke-width="0.16">3e-02</text>
<text x="795.20" y="370.60" font-size="7.2" text-anchor="end" fill="#2C2C2C" stroke="#2C2C2C" stroke-width="0.16">2e-02</text>
<text x="795.20" y="402.30" font-size="7.2" text-anchor="end" fill="#2C2C2C" stroke="#2C2C2C" stroke-width="0.16">1e-02</text>
<text x="795.20" y="433.90" font-size="7.2" text-anchor="end" fill="#2C2C2C" stroke="#2C2C2C" stroke-width="0.16">0e+00</text>
<path d="M808.2 444.6v2.6M842.0 444.6v2.6M875.9 444.6v2.6M909.7 444.6v2.6M943.6 444.6v2.6M977.6 444.6v2.6M799.3 272.6h-2.6M799.3 304.5h-2.6M799.3 336.3h-2.6M799.3 368.0h-2.6M799.3 399.7h-2.6M799.3 431.3h-2.6" stroke="#555" stroke-width="0.8"/>
<text x="979.30" y="275.80" font-size="10.5" text-anchor="end" font-weight="bold" fill="#436C94" stroke="#436C94" stroke-width="0.23">Cor = 0.63</text>
<text x="979.30" y="286.60" font-size="10.5" text-anchor="end" font-weight="bold" font-style="italic" fill="#436C94" stroke="#436C94" stroke-width="0.23">p &lt; 0.0001</text>
<text x="982.00" y="422.50" font-size="10.5" text-anchor="end" font-weight="bold" fill="#2F7D4F" stroke="#2F7D4F" stroke-width="0.23">Cor = 0.75</text>
<text x="982.00" y="433.40" font-size="10.5" text-anchor="end" font-weight="bold" font-style="italic" fill="#2F7D4F" stroke="#2F7D4F" stroke-width="0.23">p &lt; 0.0001</text>
<text x="528.40" y="128.30" font-size="11.35" text-anchor="middle" fill="#000" stroke="#000" stroke-width="0.25" transform="rotate(-90 528.40 128.30)">Normalized Protein Contribution</text>
<text x="528.40" y="359.70" font-size="11.35" text-anchor="middle" fill="#000" stroke="#000" stroke-width="0.25" transform="rotate(-90 528.40 359.70)">Normalized Protein Contribution</text>
<text x="654.60" y="469.00" font-size="11.35" text-anchor="middle" fill="#000" stroke="#000" stroke-width="0.25">Normalized RNA count</text>
<text x="892.00" y="469.00" font-size="11.35" text-anchor="middle" fill="#000" stroke="#000" stroke-width="0.25">Normalized RNA count</text>
<path d="M1001.1 231.5H1018.7" stroke="#3A6B98" stroke-width="1.5"/><path d="M1009.9 228.9L1012.2 233.0H1007.6Z" fill="#3A6B98" stroke="#3C4650" stroke-width="0.7"/>
<path d="M1001.1 249.1H1018.7" stroke="#2F7D4F" stroke-width="1.5"/><circle cx="1009.9" cy="249.1" r="1.9" fill="#2F7D4F" stroke="#3A4A44" stroke-width="0.8"/>
<path d="M998.5 218.5V260.5H1020.7" fill="none" stroke="#F0F0F0" stroke-width="0.8"/>
<text x="1028.60" y="236.40" font-size="11.5" fill="#000" stroke="#000" stroke-width="0.25">Tissue</text>
<text x="1028.20" y="253.00" font-size="11.5" fill="#000" stroke="#000" stroke-width="0.25">Silk−Ov</text>
<text x="20.20" y="497.60" font-size="22" font-weight="bold" fill="#000" stroke="#000" stroke-width="0.48">c</text>
<text x="237.30" y="501.50" font-size="18.1" text-anchor="middle" fill="#000" stroke="#000" stroke-width="0.40">Hypoxia</text>
<text x="762.00" y="501.50" font-size="18.4" text-anchor="middle" fill="#000" stroke="#000" stroke-width="0.40">Angiogenesis</text>
<defs>
<filter id="sp1" x="0" y="0" width="140" height="140" filterUnits="userSpaceOnUse" color-interpolation-filters="sRGB"><feTurbulence type="fractalNoise" baseFrequency="0.34" numOctaves="4" seed="11" result="a"/><feColorMatrix in="a" type="matrix" values="3.2 0 0 0 -1.696 3.2 0 0 0 -1.696 3.2 0 0 0 -1.696 0 0 0 0 1" result="a1"/><feGaussianBlur in="a1" stdDeviation="0.6" result="a2"/><feTurbulence type="fractalNoise" baseFrequency="0.035" numOctaves="2" seed="3" result="c"/><feColorMatrix in="c" type="matrix" values="2.8 0 0 0 -0.952 2.8 0 0 0 -0.952 2.8 0 0 0 -0.952 0 0 0 0 1" result="c2"/><feComposite in="a2" in2="c2" operator="arithmetic" k1="1" k2="0" k3="0" k4="0" result="m"/><feColorMatrix in="m" type="matrix" values="0.450 0 0 0 0 0 0.450 0 0 0 0 0 0.450 0 0 0 0 0 0 1" result="m2"/><feComposite in="m2" in2="SourceGraphic" operator="in"/></filter>
<filter id="sp2" x="0" y="0" width="140" height="140" filterUnits="userSpaceOnUse" color-interpolation-filters="sRGB"><feTurbulence type="fractalNoise" baseFrequency="0.45" numOctaves="3" seed="12" result="a"/><feColorMatrix in="a" type="matrix" values="4 0 0 0 -1.800 4 0 0 0 -1.800 4 0 0 0 -1.800 0 0 0 0 1" result="a1"/><feGaussianBlur in="a1" stdDeviation="0.5" result="a2"/><feTurbulence type="fractalNoise" baseFrequency="0.06" numOctaves="2" seed="5" result="c"/><feColorMatrix in="c" type="matrix" values="3 0 0 0 -0.900 3 0 0 0 -0.900 3 0 0 0 -0.900 0 0 0 0 1" result="c2"/><feComposite in="a2" in2="c2" operator="arithmetic" k1="1" k2="0" k3="0" k4="0" result="m"/><feColorMatrix in="m" type="matrix" values="1.000 0 0 0 0 0 1.000 0 0 0 0 0 1.000 0 0 0 0 0 0 1" result="m2"/><feComposite in="m2" in2="SourceGraphic" operator="in"/></filter>
<filter id="sp3" x="0" y="0" width="140" height="140" filterUnits="userSpaceOnUse" color-interpolation-filters="sRGB"><feTurbulence type="fractalNoise" baseFrequency="0.5" numOctaves="3" seed="21" result="a"/><feColorMatrix in="a" type="matrix" values="3.4 0 0 0 -1.768 3.4 0 0 0 -1.768 3.4 0 0 0 -1.768 0 0 0 0 1" result="a1"/><feGaussianBlur in="a1" stdDeviation="0.55" result="a2"/><feTurbulence type="fractalNoise" baseFrequency="0.085" numOctaves="2" seed="9" result="c"/><feColorMatrix in="c" type="matrix" values="3.2 0 0 0 -1.152 3.2 0 0 0 -1.152 3.2 0 0 0 -1.152 0 0 0 0 1" result="c2"/><feComposite in="a2" in2="c2" operator="arithmetic" k1="1" k2="0" k3="0" k4="0" result="m"/><feColorMatrix in="m" type="matrix" values="0.800 0 0 0 0 0 0.800 0 0 0 0 0 0.800 0 0 0 0 0 0 1" result="m2"/><feComposite in="m2" in2="SourceGraphic" operator="in"/></filter>
<filter id="sp4" x="0" y="0" width="140" height="140" filterUnits="userSpaceOnUse" color-interpolation-filters="sRGB"><feTurbulence type="fractalNoise" baseFrequency="0.42" numOctaves="3" seed="22" result="a"/><feColorMatrix in="a" type="matrix" values="3.0 0 0 0 -1.380 3.0 0 0 0 -1.380 3.0 0 0 0 -1.380 0 0 0 0 1" result="a1"/><feGaussianBlur in="a1" stdDeviation="0.6" result="a2"/><feTurbulence type="fractalNoise" baseFrequency="0.085" numOctaves="2" seed="9" result="c"/><feColorMatrix in="c" type="matrix" values="3.0 0 0 0 -0.900 3.0 0 0 0 -0.900 3.0 0 0 0 -0.900 0 0 0 0 1" result="c2"/><feComposite in="a2" in2="c2" operator="arithmetic" k1="1" k2="0" k3="0" k4="0" result="m"/><feColorMatrix in="m" type="matrix" values="0.620 0 0 0 0 0 0.620 0 0 0 0 0 0.620 0 0 0 0 0 0 1" result="m2"/><feComposite in="m2" in2="SourceGraphic" operator="in"/></filter>
<filter id="sp5" x="0" y="0" width="140" height="140" filterUnits="userSpaceOnUse" color-interpolation-filters="sRGB"><feTurbulence type="fractalNoise" baseFrequency="0.3" numOctaves="4" seed="31" result="a"/><feColorMatrix in="a" type="matrix" values="2.8 0 0 0 -1.176 2.8 0 0 0 -1.176 2.8 0 0 0 -1.176 0 0 0 0 1" result="a1"/><feGaussianBlur in="a1" stdDeviation="0.7" result="a2"/><feTurbulence type="fractalNoise" baseFrequency="0.045" numOctaves="2" seed="13" result="c"/><feColorMatrix in="c" type="matrix" values="2.6 0 0 0 -0.728 2.6 0 0 0 -0.728 2.6 0 0 0 -0.728 0 0 0 0 1" result="c2"/><feComposite in="a2" in2="c2" operator="arithmetic" k1="1" k2="0" k3="0" k4="0" result="m"/><feColorMatrix in="m" type="matrix" values="0.091 0 0 0 0 0 0.070 0 0 0 0 0 0.665 0 0 0 0 0 0 1" result="m2"/><feComposite in="m2" in2="SourceGraphic" operator="in"/></filter>
<filter id="sp6" x="0" y="0" width="140" height="140" filterUnits="userSpaceOnUse" color-interpolation-filters="sRGB"><feTurbulence type="fractalNoise" baseFrequency="0.4" numOctaves="3" seed="32" result="a"/><feColorMatrix in="a" type="matrix" values="3.5 0 0 0 -2.030 3.5 0 0 0 -2.030 3.5 0 0 0 -2.030 0 0 0 0 1" result="a1"/><feGaussianBlur in="a1" stdDeviation="0.5" result="a2"/><feTurbulence type="fractalNoise" baseFrequency="0.035" numOctaves="2" seed="3" result="c"/><feColorMatrix in="c" type="matrix" values="2.2 0 0 0 -0.748 2.2 0 0 0 -0.748 2.2 0 0 0 -0.748 0 0 0 0 1" result="c2"/><feComposite in="a2" in2="c2" operator="arithmetic" k1="1" k2="0" k3="0" k4="0" result="m"/><feColorMatrix in="m" type="matrix" values="0.600 0 0 0 0 0 0.600 0 0 0 0 0 0.270 0 0 0 0 0 0 1" result="m2"/><feComposite in="m2" in2="SourceGraphic" operator="in"/></filter>
<filter id="sp7" x="0" y="0" width="140" height="140" filterUnits="userSpaceOnUse" color-interpolation-filters="sRGB"><feTurbulence type="fractalNoise" baseFrequency="0.3" numOctaves="4" seed="41" result="a"/><feColorMatrix in="a" type="matrix" values="2.6 0 0 0 -1.014 2.6 0 0 0 -1.014 2.6 0 0 0 -1.014 0 0 0 0 1" result="a1"/><feGaussianBlur in="a1" stdDeviation="0.7" result="a2"/><feTurbulence type="fractalNoise" baseFrequency="0.045" numOctaves="2" seed="15" result="c"/><feColorMatrix in="c" type="matrix" values="2.2 0 0 0 -0.484 2.2 0 0 0 -0.484 2.2 0 0 0 -0.484 0 0 0 0 1" result="c2"/><feComposite in="a2" in2="c2" operator="arithmetic" k1="1" k2="0" k3="0" k4="0" result="m"/><feColorMatrix in="m" type="matrix" values="0.143 0 0 0 0 0 0.065 0 0 0 0 0 0.585 0 0 0 0 0 0 1" result="m2"/><feComposite in="m2" in2="SourceGraphic" operator="in"/></filter>
<filter id="sp8" x="0" y="0" width="140" height="140" filterUnits="userSpaceOnUse" color-interpolation-filters="sRGB"><feTurbulence type="fractalNoise" baseFrequency="0.36" numOctaves="4" seed="22" result="a"/><feColorMatrix in="a" type="matrix" values="3.0 0 0 0 -1.410 3.0 0 0 0 -1.410 3.0 0 0 0 -1.410 0 0 0 0 1" result="a1"/><feGaussianBlur in="a1" stdDeviation="0.65" result="a2"/><feTurbulence type="fractalNoise" baseFrequency="0.04" numOctaves="2" seed="9" result="c"/><feColorMatrix in="c" type="matrix" values="3.0 0 0 0 -0.840 3.0 0 0 0 -0.840 3.0 0 0 0 -0.840 0 0 0 0 1" result="c2"/><feComposite in="a2" in2="c2" operator="arithmetic" k1="1" k2="0" k3="0" k4="0" result="m"/><feColorMatrix in="m" type="matrix" values="0.700 0 0 0 0 0 0.280 0 0 0 0 0 0.462 0 0 0 0 0 0 1" result="m2"/><feComposite in="m2" in2="SourceGraphic" operator="in"/></filter>
<filter id="sp9" x="0" y="0" width="140" height="140" filterUnits="userSpaceOnUse" color-interpolation-filters="sRGB"><feTurbulence type="fractalNoise" baseFrequency="0.4" numOctaves="3" seed="51" result="a"/><feColorMatrix in="a" type="matrix" values="3 0 0 0 -1.650 3 0 0 0 -1.650 3 0 0 0 -1.650 0 0 0 0 1" result="a1"/><feGaussianBlur in="a1" stdDeviation="0.5" result="a2"/><feTurbulence type="fractalNoise" baseFrequency="0.035" numOctaves="2" seed="17" result="c"/><feColorMatrix in="c" type="matrix" values="2 0 0 0 -0.600 2 0 0 0 -0.600 2 0 0 0 -0.600 0 0 0 0 1" result="c2"/><feComposite in="a2" in2="c2" operator="arithmetic" k1="1" k2="0" k3="0" k4="0" result="m"/><feColorMatrix in="m" type="matrix" values="0.600 0 0 0 0 0 0.600 0 0 0 0 0 0.600 0 0 0 0 0 0 1" result="m2"/><feComposite in="m2" in2="SourceGraphic" operator="in"/></filter>
<filter id="sp10" x="0" y="0" width="140" height="140" filterUnits="userSpaceOnUse" color-interpolation-filters="sRGB"><feTurbulence type="fractalNoise" baseFrequency="0.35" numOctaves="4" seed="52" result="a"/><feColorMatrix in="a" type="matrix" values="3.0 0 0 0 -1.440 3.0 0 0 0 -1.440 3.0 0 0 0 -1.440 0 0 0 0 1" result="a1"/><feGaussianBlur in="a1" stdDeviation="0.65" result="a2"/><feTurbulence type="fractalNoise" baseFrequency="0.035" numOctaves="2" seed="17" result="c"/><feColorMatrix in="c" type="matrix" values="2.5 0 0 0 -0.700 2.5 0 0 0 -0.700 2.5 0 0 0 -0.700 0 0 0 0 1" result="c2"/><feComposite in="a2" in2="c2" operator="arithmetic" k1="1" k2="0" k3="0" k4="0" result="m"/><feColorMatrix in="m" type="matrix" values="0.300 0 0 0 0 0 0.300 0 0 0 0 0 0.300 0 0 0 0 0 0 1" result="m2"/><feComposite in="m2" in2="SourceGraphic" operator="in"/></filter>
<filter id="sp11" x="0" y="0" width="140" height="140" filterUnits="userSpaceOnUse" color-interpolation-filters="sRGB"><feTurbulence type="fractalNoise" baseFrequency="0.3" numOctaves="4" seed="53" result="a"/><feColorMatrix in="a" type="matrix" values="2.6 0 0 0 -0.962 2.6 0 0 0 -0.962 2.6 0 0 0 -0.962 0 0 0 0 1" result="a1"/><feGaussianBlur in="a1" stdDeviation="0.7" result="a2"/><feTurbulence type="fractalNoise" baseFrequency="0.05" numOctaves="2" seed="19" result="c"/><feColorMatrix in="c" type="matrix" values="2.0 0 0 0 -0.300 2.0 0 0 0 -0.300 2.0 0 0 0 -0.300 0 0 0 0 1" result="c2"/><feComposite in="a2" in2="c2" operator="arithmetic" k1="1" k2="0" k3="0" k4="0" result="m"/><feColorMatrix in="m" type="matrix" values="0.109 0 0 0 0 0 0.204 0 0 0 0 0 0.598 0 0 0 0 0 0 1" result="m2"/><feComposite in="m2" in2="SourceGraphic" operator="in"/></filter>
<filter id="sp12" x="0" y="0" width="140" height="140" filterUnits="userSpaceOnUse" color-interpolation-filters="sRGB"><feTurbulence type="fractalNoise" baseFrequency="0.45" numOctaves="3" seed="61" result="a"/><feColorMatrix in="a" type="matrix" values="3.6 0 0 0 -2.016 3.6 0 0 0 -2.016 3.6 0 0 0 -2.016 0 0 0 0 1" result="a1"/><feGaussianBlur in="a1" stdDeviation="0.5" result="a2"/><feTurbulence type="fractalNoise" baseFrequency="0.03" numOctaves="2" seed="23" result="c"/><feColorMatrix in="c" type="matrix" values="3 0 0 0 -0.960 3 0 0 0 -0.960 3 0 0 0 -0.960 0 0 0 0 1" result="c2"/><feComposite in="a2" in2="c2" operator="arithmetic" k1="1" k2="0" k3="0" k4="0" result="m"/><feColorMatrix in="m" type="matrix" values="0.500 0 0 0 0 0 0.500 0 0 0 0 0 0.500 0 0 0 0 0 0 1" result="m2"/><feComposite in="m2" in2="SourceGraphic" operator="in"/></filter>
<filter id="sp13" x="0" y="0" width="140" height="140" filterUnits="userSpaceOnUse" color-interpolation-filters="sRGB"><feTurbulence type="fractalNoise" baseFrequency="0.35" numOctaves="4" seed="62" result="a"/><feColorMatrix in="a" type="matrix" values="3.2 0 0 0 -1.600 3.2 0 0 0 -1.600 3.2 0 0 0 -1.600 0 0 0 0 1" result="a1"/><feGaussianBlur in="a1" stdDeviation="0.6" result="a2"/><feTurbulence type="fractalNoise" baseFrequency="0.05" numOctaves="2" seed="25" result="c"/><feColorMatrix in="c" type="matrix" values="3 0 0 0 -1.020 3 0 0 0 -1.020 3 0 0 0 -1.020 0 0 0 0 1" result="c2"/><feComposite in="a2" in2="c2" operator="arithmetic" k1="1" k2="0" k3="0" k4="0" result="m"/><feColorMatrix in="m" type="matrix" values="0.450 0 0 0 0 0 0.450 0 0 0 0 0 0.450 0 0 0 0 0 0 1" result="m2"/><feComposite in="m2" in2="SourceGraphic" operator="in"/></filter>
<filter id="sp14" x="0" y="0" width="140" height="140" filterUnits="userSpaceOnUse" color-interpolation-filters="sRGB"><feTurbulence type="fractalNoise" baseFrequency="0.3" numOctaves="4" seed="63" result="a"/><feColorMatrix in="a" type="matrix" values="2.8 0 0 0 -1.036 2.8 0 0 0 -1.036 2.8 0 0 0 -1.036 0 0 0 0 1" result="a1"/><feGaussianBlur in="a1" stdDeviation="0.7" result="a2"/><feTurbulence type="fractalNoise" baseFrequency="0.05" numOctaves="2" seed="27" result="c"/><feColorMatrix in="c" type="matrix" values="2.2 0 0 0 -0.440 2.2 0 0 0 -0.440 2.2 0 0 0 -0.440 0 0 0 0 1" result="c2"/><feComposite in="a2" in2="c2" operator="arithmetic" k1="1" k2="0" k3="0" k4="0" result="m"/><feColorMatrix in="m" type="matrix" values="0.109 0 0 0 0 0 0.211 0 0 0 0 0 0.741 0 0 0 0 0 0 1" result="m2"/><feComposite in="m2" in2="SourceGraphic" operator="in"/></filter>
<filter id="sp15" x="0" y="0" width="140" height="140" filterUnits="userSpaceOnUse" color-interpolation-filters="sRGB"><feTurbulence type="fractalNoise" baseFrequency="0.45" numOctaves="3" seed="61" result="a"/><feColorMatrix in="a" type="matrix" values="3.6 0 0 0 -1.908 3.6 0 0 0 -1.908 3.6 0 0 0 -1.908 0 0 0 0 1" result="a1"/><feGaussianBlur in="a1" stdDeviation="0.5" result="a2"/><feTurbulence type="fractalNoise" baseFrequency="0.03" numOctaves="2" seed="23" result="c"/><feColorMatrix in="c" type="matrix" values="3 0 0 0 -0.960 3 0 0 0 -0.960 3 0 0 0 -0.960 0 0 0 0 1" result="c2"/><feComposite in="a2" in2="c2" operator="arithmetic" k1="1" k2="0" k3="0" k4="0" result="m"/><feColorMatrix in="m" type="matrix" values="0.800 0 0 0 0 0 0.640 0 0 0 0 0 0.240 0 0 0 0 0 0 1" result="m2"/><feComposite in="m2" in2="SourceGraphic" operator="in"/></filter>
</defs>
<defs><radialGradient id="dk"><stop offset="0" stop-color="#000" stop-opacity="0.65"/><stop offset="0.6" stop-color="#000" stop-opacity="0.45"/><stop offset="1" stop-color="#000" stop-opacity="0"/></radialGradient><filter id="sb" x="-20%" y="-20%" width="140%" height="140%"><feGaussianBlur stdDeviation="0.45"/></filter><filter id="sb2" x="-20%" y="-20%" width="140%" height="140%"><feGaussianBlur stdDeviation="0.7"/></filter></defs>
<g transform="translate(34.2 529.4)"><clipPath id="tc1"><rect width="137.1" height="137.4"/></clipPath><rect width="137.1" height="137.4" fill="#000"/><g clip-path="url(#tc1)"><path d="M62.0 3.5C55.8 4.2 45.8 4.6 39.0 8.0C32.2 11.4 26.5 17.1 21.5 23.8C16.5 30.5 12.0 40.8 9.2 48.4C6.4 56.0 4.9 62.2 4.8 69.5C4.7 76.8 5.5 84.8 8.3 92.4C11.1 100.0 16.1 109.1 21.5 115.3C26.9 121.5 33.5 126.2 40.8 129.4C48.1 132.6 57.9 134.7 65.5 134.7C73.1 134.7 80.4 132.6 86.6 129.4C92.8 126.2 98.7 121.2 102.5 115.3C106.3 109.4 106.9 100.1 109.5 94.2C112.1 88.3 114.8 83.9 118.3 80.1C121.8 76.3 127.9 74.8 130.6 71.3C133.2 67.8 134.5 62.8 134.2 59.0C133.9 55.2 131.6 51.3 128.9 48.4C126.2 45.5 121.8 45.5 118.3 41.4C114.8 37.3 112.4 29.2 107.7 23.8C103.0 18.4 95.4 12.2 90.1 8.8C84.8 5.4 80.7 4.4 76.0 3.5C71.3 2.6 68.2 2.8 62.0 3.5Z" fill="#fff" filter="url(#sp1)" opacity="0.8"/><path d="M62.0 3.5C55.8 4.2 45.8 4.6 39.0 8.0C32.2 11.4 26.5 17.1 21.5 23.8C16.5 30.5 12.0 40.8 9.2 48.4C6.4 56.0 4.9 62.2 4.8 69.5C4.7 76.8 5.5 84.8 8.3 92.4C11.1 100.0 16.1 109.1 21.5 115.3C26.9 121.5 33.5 126.2 40.8 129.4C48.1 132.6 57.9 134.7 65.5 134.7C73.1 134.7 80.4 132.6 86.6 129.4C92.8 126.2 98.7 121.2 102.5 115.3C106.3 109.4 106.9 100.1 109.5 94.2C112.1 88.3 114.8 83.9 118.3 80.1C121.8 76.3 127.9 74.8 130.6 71.3C133.2 67.8 134.5 62.8 134.2 59.0C133.9 55.2 131.6 51.3 128.9 48.4C126.2 45.5 121.8 45.5 118.3 41.4C114.8 37.3 112.4 29.2 107.7 23.8C103.0 18.4 95.4 12.2 90.1 8.8C84.8 5.4 80.7 4.4 76.0 3.5C71.3 2.6 68.2 2.8 62.0 3.5Z" fill="none" stroke="#fff" stroke-width="2.5" filter="url(#sp2)" opacity="0.45"/><path d="M30 15C20 26 11 42 7.5 56C4.5 68 5 82 9 94C13 104 20 114 28 121" fill="none" stroke="#fff" stroke-width="4.5" filter="url(#sp2)"/><g fill="#E0E0E0" opacity="0.6" filter="url(#sb)"><circle cx="78.5" cy="14" r="1.0"/><circle cx="80" cy="18" r="1.1"/><circle cx="81.5" cy="22" r="0.9"/><circle cx="56" cy="57.5" r="1.0"/><circle cx="59" cy="58.5" r="1.2"/><circle cx="62.5" cy="58" r="1.1"/><circle cx="66" cy="59.5" r="0.9"/><circle cx="69.5" cy="57" r="0.8"/><circle cx="70" cy="64" r="0.8"/><circle cx="70.5" cy="68" r="0.7"/><circle cx="38" cy="104" r="1.1"/><circle cx="40" cy="106.5" r="1.0"/><circle cx="36" cy="101" r="0.8"/><circle cx="112" cy="68" r="0.8"/><circle cx="116" cy="71" r="0.9"/><circle cx="120" cy="72.5" r="0.8"/><circle cx="124" cy="70" r="0.8"/><circle cx="52" cy="127" r="0.8"/><circle cx="55" cy="129" r="0.7"/><circle cx="26" cy="56" r="0.8"/><circle cx="30" cy="57" r="0.7"/><circle cx="84" cy="100" r="0.7"/><circle cx="81" cy="104" r="0.7"/><circle cx="46" cy="23" r="0.7"/><circle cx="43" cy="26" r="0.7"/><circle cx="96" cy="40" r="0.7"/></g><g fill="none" stroke="#9A9A9A" stroke-linecap="butt" opacity="0.85" filter="url(#sb2)"><path d="M60.2 81L65.3 88.7" stroke-width="2.5"/><path d="M56.9 91.6L62.7 95" stroke-width="2.3"/><path d="M52.7 86.7L56.2 84.1L57.1 85.9L54.5 88.5Z" fill="#9A9A9A" stroke="none"/></g></g><path d="M45.4 73.0L98.2 2.0M76.8 103.0L136.3 37.6" stroke="#B4B4B4" stroke-width="0.95" stroke-dasharray="4.9 3.1" fill="none"/><rect x="45.4" y="73.0" width="31.4" height="30.0" fill="none" stroke="#B4B4B4" stroke-width="0.9"/><rect x="98.2" y="1.0" width="38.1" height="36.6" fill="#000"/><path d="M98.2 1.0H136.3V37.6H98.2Z" fill="#fff" filter="url(#sp1)" opacity="0.7"/><g fill="none" stroke="#A0A0A0" stroke-linecap="butt" opacity="0.9" filter="url(#sb2)"><path d="M116.1 7.6L124.5 18" stroke-width="4.6"/><path d="M109.8 24.3L118.2 29.2" stroke-width="4.0"/><path d="M104.9 17.6L110.7 13.3L112.1 16.2L107.8 20.5Z" fill="#A0A0A0" stroke="none"/></g><rect x="98.2" y="1.0" width="38.1" height="36.6" fill="none" stroke="#B4B4B4" stroke-width="1"/><path d="M122.4 35.6H133.6" stroke="#E6E6E6" stroke-width="1.5"/><path d="M101.8 130.4H129.4" stroke="#EDEDED" stroke-width="2"/></g>
<g transform="translate(176.9 529.4)"><clipPath id="tc2"><rect width="137.1" height="137.4"/></clipPath><rect width="137.1" height="137.4" fill="#000"/><g clip-path="url(#tc2)"><g fill="none" stroke="#3A3A3A" stroke-linecap="butt" opacity="0.8" filter="url(#sb2)"><path d="M60.2 81L65.3 88.7" stroke-width="2.5"/><path d="M56.9 91.6L62.7 95" stroke-width="2.3"/><path d="M52.7 86.7L56.2 84.1L57.1 85.9L54.5 88.5Z" fill="#3A3A3A" stroke="none"/></g></g><path d="M45.4 73.0L98.2 2.0M76.8 103.0L136.3 37.6" stroke="#B4B4B4" stroke-width="0.95" stroke-dasharray="4.9 3.1" fill="none"/><rect x="45.4" y="73.0" width="31.4" height="30.0" fill="none" stroke="#B4B4B4" stroke-width="0.9"/><rect x="98.2" y="1.0" width="38.1" height="36.6" fill="#000"/><g fill="none" stroke="#343434" stroke-linecap="butt" opacity="0.9" filter="url(#sb2)"><path d="M116.1 7.6L124.5 18" stroke-width="4.6"/><path d="M109.8 24.3L118.2 29.2" stroke-width="4.0"/><path d="M104.9 17.6L110.7 13.3L112.1 16.2L107.8 20.5Z" fill="#343434" stroke="none"/></g><rect x="98.2" y="1.0" width="38.1" height="36.6" fill="none" stroke="#B4B4B4" stroke-width="1"/><path d="M122.4 35.6H133.6" stroke="#E6E6E6" stroke-width="1.5"/><path d="M101.8 130.4H129.4" stroke="#EDEDED" stroke-width="2"/></g>
<g transform="translate(319.9 529.4)"><clipPath id="tc3"><rect width="137.1" height="137.4"/></clipPath><rect width="137.1" height="137.4" fill="#000"/><g clip-path="url(#tc3)"><path d="M62.0 3.5C55.8 4.2 45.8 4.6 39.0 8.0C32.2 11.4 26.5 17.1 21.5 23.8C16.5 30.5 12.0 40.8 9.2 48.4C6.4 56.0 4.9 62.2 4.8 69.5C4.7 76.8 5.5 84.8 8.3 92.4C11.1 100.0 16.1 109.1 21.5 115.3C26.9 121.5 33.5 126.2 40.8 129.4C48.1 132.6 57.9 134.7 65.5 134.7C73.1 134.7 80.4 132.6 86.6 129.4C92.8 126.2 98.7 121.2 102.5 115.3C106.3 109.4 106.9 100.1 109.5 94.2C112.1 88.3 114.8 83.9 118.3 80.1C121.8 76.3 127.9 74.8 130.6 71.3C133.2 67.8 134.5 62.8 134.2 59.0C133.9 55.2 131.6 51.3 128.9 48.4C126.2 45.5 121.8 45.5 118.3 41.4C114.8 37.3 112.4 29.2 107.7 23.8C103.0 18.4 95.4 12.2 90.1 8.8C84.8 5.4 80.7 4.4 76.0 3.5C71.3 2.6 68.2 2.8 62.0 3.5Z" fill="#fff" filter="url(#sp5)" opacity="0.95"/><path d="M62.0 3.5C55.8 4.2 45.8 4.6 39.0 8.0C32.2 11.4 26.5 17.1 21.5 23.8C16.5 30.5 12.0 40.8 9.2 48.4C6.4 56.0 4.9 62.2 4.8 69.5C4.7 76.8 5.5 84.8 8.3 92.4C11.1 100.0 16.1 109.1 21.5 115.3C26.9 121.5 33.5 126.2 40.8 129.4C48.1 132.6 57.9 134.7 65.5 134.7C73.1 134.7 80.4 132.6 86.6 129.4C92.8 126.2 98.7 121.2 102.5 115.3C106.3 109.4 106.9 100.1 109.5 94.2C112.1 88.3 114.8 83.9 118.3 80.1C121.8 76.3 127.9 74.8 130.6 71.3C133.2 67.8 134.5 62.8 134.2 59.0C133.9 55.2 131.6 51.3 128.9 48.4C126.2 45.5 121.8 45.5 118.3 41.4C114.8 37.3 112.4 29.2 107.7 23.8C103.0 18.4 95.4 12.2 90.1 8.8C84.8 5.4 80.7 4.4 76.0 3.5C71.3 2.6 68.2 2.8 62.0 3.5Z" fill="#fff" filter="url(#sp6)" opacity="0.6" style="mix-blend-mode:screen"/><path d="M62.0 3.5C55.8 4.2 45.8 4.6 39.0 8.0C32.2 11.4 26.5 17.1 21.5 23.8C16.5 30.5 12.0 40.8 9.2 48.4C6.4 56.0 4.9 62.2 4.8 69.5C4.7 76.8 5.5 84.8 8.3 92.4C11.1 100.0 16.1 109.1 21.5 115.3C26.9 121.5 33.5 126.2 40.8 129.4C48.1 132.6 57.9 134.7 65.5 134.7C73.1 134.7 80.4 132.6 86.6 129.4C92.8 126.2 98.7 121.2 102.5 115.3C106.3 109.4 106.9 100.1 109.5 94.2C112.1 88.3 114.8 83.9 118.3 80.1C121.8 76.3 127.9 74.8 130.6 71.3C133.2 67.8 134.5 62.8 134.2 59.0C133.9 55.2 131.6 51.3 128.9 48.4C126.2 45.5 121.8 45.5 118.3 41.4C114.8 37.3 112.4 29.2 107.7 23.8C103.0 18.4 95.4 12.2 90.1 8.8C84.8 5.4 80.7 4.4 76.0 3.5C71.3 2.6 68.2 2.8 62.0 3.5Z" fill="none" stroke="#fff" stroke-width="2.5" filter="url(#sp2)" opacity="0.4" style="mix-blend-mode:screen"/><path d="M30 15C20 26 11 42 7.5 56C4.5 68 5 82 9 94C13 104 20 114 28 121" fill="none" stroke="#fff" stroke-width="5" filter="url(#sp6)" style="mix-blend-mode:screen"/><path d="M30 15C20 26 11 42 7.5 56C4.5 68 5 82 9 94C13 104 20 114 28 121" fill="none" stroke="#fff" stroke-width="4" filter="url(#sp2)" opacity="0.8" style="mix-blend-mode:screen"/><g fill="#F0F0C8" opacity="0.6" filter="url(#sb)"><circle cx="78.5" cy="14" r="1.0"/><circle cx="80" cy="18" r="1.1"/><circle cx="81.5" cy="22" r="0.9"/><circle cx="56" cy="57.5" r="1.0"/><circle cx="59" cy="58.5" r="1.2"/><circle cx="62.5" cy="58" r="1.1"/><circle cx="66" cy="59.5" r="0.9"/><circle cx="69.5" cy="57" r="0.8"/><circle cx="70" cy="64" r="0.8"/><circle cx="70.5" cy="68" r="0.7"/><circle cx="38" cy="104" r="1.1"/><circle cx="40" cy="106.5" r="1.0"/><circle cx="36" cy="101" r="0.8"/><circle cx="112" cy="68" r="0.8"/><circle cx="116" cy="71" r="0.9"/><circle cx="120" cy="72.5" r="0.8"/><circle cx="124" cy="70" r="0.8"/><circle cx="52" cy="127" r="0.8"/><circle cx="55" cy="129" r="0.7"/><circle cx="26" cy="56" r="0.8"/><circle cx="30" cy="57" r="0.7"/><circle cx="84" cy="100" r="0.7"/><circle cx="81" cy="104" r="0.7"/><circle cx="46" cy="23" r="0.7"/><circle cx="43" cy="26" r="0.7"/><circle cx="96" cy="40" r="0.7"/></g><g fill="none" stroke="#4A3CFF" stroke-linecap="butt" opacity="1" filter="url(#sb2)"><path d="M60.2 81L65.3 88.7" stroke-width="3.1"/><path d="M56.9 91.6L62.7 95" stroke-width="2.9"/><path d="M52.7 86.7L56.2 84.1L57.1 85.9L54.5 88.5Z" fill="#4A3CFF" stroke="none"/></g></g><path d="M45.4 73.0L98.2 2.0M76.8 103.0L136.3 37.6" stroke="#B4B4B4" stroke-width="0.95" stroke-dasharray="4.9 3.1" fill="none"/><rect x="45.4" y="73.0" width="31.4" height="30.0" fill="none" stroke="#B4B4B4" stroke-width="0.9"/><rect x="98.2" y="1.0" width="38.1" height="36.6" fill="#000"/><path d="M98.2 1.0H136.3V37.6H98.2Z" fill="#fff" filter="url(#sp5)" opacity="0.6"/><g fill="none" stroke="#4A3CFF" stroke-linecap="butt" opacity="1" filter="url(#sb2)"><path d="M116.1 7.6L124.5 18" stroke-width="5.3999999999999995"/><path d="M109.8 24.3L118.2 29.2" stroke-width="4.8"/><path d="M104.9 17.6L110.7 13.3L112.1 16.2L107.8 20.5Z" fill="#4A3CFF" stroke="none"/></g><rect x="98.2" y="1.0" width="38.1" height="36.6" fill="none" stroke="#B4B4B4" stroke-width="1"/><path d="M122.4 35.6H133.6" stroke="#E6E6E6" stroke-width="1.5"/><path d="M101.8 130.4H129.4" stroke="#EDEDED" stroke-width="2"/><text x="2.5" y="7.5" font-size="6.5" font-weight="bold" fill="#E8E272">MMP2</text><text x="2.5" y="13.8" font-size="6.5" font-weight="bold" fill="#9A1212">PDGFRβ</text><text x="2.5" y="20.1" font-size="6.5" font-weight="bold" fill="#1616A8">DAPI</text></g>
<g transform="translate(34.2 673.3)"><clipPath id="tc4"><rect width="137.1" height="137.4"/></clipPath><rect width="137.1" height="137.4" fill="#000"/><g clip-path="url(#tc4)"><path d="M55.8 3.2C49.3 4.1 40.6 5.0 34.7 8.5C28.8 12.0 24.3 18.2 20.6 24.3C16.9 30.4 13.9 38.9 12.7 45.4C11.5 51.9 12.6 57.7 13.6 63.0C14.6 68.3 16.2 71.8 18.8 77.1C21.4 82.4 26.3 89.1 29.4 94.7C32.5 100.3 33.8 105.8 37.3 110.6C40.8 115.4 46.0 120.6 50.5 123.8C55.0 127.0 59.9 129.3 64.6 129.9C69.3 130.5 74.5 129.3 78.7 127.3C83.0 125.2 86.6 121.8 90.1 117.6C93.6 113.3 96.9 107.7 99.8 101.8C102.7 95.9 105.3 88.9 107.7 82.4C110.1 75.9 112.9 69.2 113.9 63.0C114.9 56.8 115.1 51.5 113.9 45.4C112.7 39.2 110.4 31.8 106.9 26.1C103.4 20.4 98.4 14.9 92.8 11.1C87.2 7.3 79.6 4.5 73.4 3.2C67.2 1.9 62.2 2.3 55.8 3.2Z" fill="#fff" filter="url(#sp3)" opacity="0.5"/><path d="M60 8C85 6 104 35 102 66C100 96 86 120 66 122C50 118 42 98 44 78C50 58 48 30 60 8Z" fill="#fff" filter="url(#sp3)" opacity="0.5"/></g><path d="M95 130H129.4" stroke="#EDEDED" stroke-width="2"/></g>
<g transform="translate(176.9 673.3)"><clipPath id="tc5"><rect width="137.1" height="137.4"/></clipPath><rect width="137.1" height="137.4" fill="#000"/><g clip-path="url(#tc5)"><path d="M55.8 3.2C49.3 4.1 40.6 5.0 34.7 8.5C28.8 12.0 24.3 18.2 20.6 24.3C16.9 30.4 13.9 38.9 12.7 45.4C11.5 51.9 12.6 57.7 13.6 63.0C14.6 68.3 16.2 71.8 18.8 77.1C21.4 82.4 26.3 89.1 29.4 94.7C32.5 100.3 33.8 105.8 37.3 110.6C40.8 115.4 46.0 120.6 50.5 123.8C55.0 127.0 59.9 129.3 64.6 129.9C69.3 130.5 74.5 129.3 78.7 127.3C83.0 125.2 86.6 121.8 90.1 117.6C93.6 113.3 96.9 107.7 99.8 101.8C102.7 95.9 105.3 88.9 107.7 82.4C110.1 75.9 112.9 69.2 113.9 63.0C114.9 56.8 115.1 51.5 113.9 45.4C112.7 39.2 110.4 31.8 106.9 26.1C103.4 20.4 98.4 14.9 92.8 11.1C87.2 7.3 79.6 4.5 73.4 3.2C67.2 1.9 62.2 2.3 55.8 3.2Z" fill="#fff" filter="url(#sp4)" opacity="0.5"/><path d="M60 8C85 6 104 35 102 66C100 96 86 120 66 122C50 118 42 98 44 78C50 58 48 30 60 8Z" fill="#fff" filter="url(#sp4)" opacity="0.45"/><path d="M55.8 3.2C49.3 4.1 40.6 5.0 34.7 8.5C28.8 12.0 24.3 18.2 20.6 24.3C16.9 30.4 13.9 38.9 12.7 45.4C11.5 51.9 12.6 57.7 13.6 63.0C14.6 68.3 16.2 71.8 18.8 77.1C21.4 82.4 26.3 89.1 29.4 94.7C32.5 100.3 33.8 105.8 37.3 110.6C40.8 115.4 46.0 120.6 50.5 123.8C55.0 127.0 59.9 129.3 64.6 129.9C69.3 130.5 74.5 129.3 78.7 127.3C83.0 125.2 86.6 121.8 90.1 117.6C93.6 113.3 96.9 107.7 99.8 101.8C102.7 95.9 105.3 88.9 107.7 82.4C110.1 75.9 112.9 69.2 113.9 63.0C114.9 56.8 115.1 51.5 113.9 45.4C112.7 39.2 110.4 31.8 106.9 26.1C103.4 20.4 98.4 14.9 92.8 11.1C87.2 7.3 79.6 4.5 73.4 3.2C67.2 1.9 62.2 2.3 55.8 3.2Z" fill="none" stroke="#fff" stroke-width="2.5" filter="url(#sp4)" opacity="0.5"/></g><path d="M95 130H129.4" stroke="#EDEDED" stroke-width="2"/></g>
<g transform="translate(319.9 673.3)"><clipPath id="tc6"><rect width="137.1" height="137.4"/></clipPath><rect width="137.1" height="137.4" fill="#000"/><g clip-path="url(#tc6)"><path d="M55.8 3.2C49.3 4.1 40.6 5.0 34.7 8.5C28.8 12.0 24.3 18.2 20.6 24.3C16.9 30.4 13.9 38.9 12.7 45.4C11.5 51.9 12.6 57.7 13.6 63.0C14.6 68.3 16.2 71.8 18.8 77.1C21.4 82.4 26.3 89.1 29.4 94.7C32.5 100.3 33.8 105.8 37.3 110.6C40.8 115.4 46.0 120.6 50.5 123.8C55.0 127.0 59.9 129.3 64.6 129.9C69.3 130.5 74.5 129.3 78.7 127.3C83.0 125.2 86.6 121.8 90.1 117.6C93.6 113.3 96.9 107.7 99.8 101.8C102.7 95.9 105.3 88.9 107.7 82.4C110.1 75.9 112.9 69.2 113.9 63.0C114.9 56.8 115.1 51.5 113.9 45.4C112.7 39.2 110.4 31.8 106.9 26.1C103.4 20.4 98.4 14.9 92.8 11.1C87.2 7.3 79.6 4.5 73.4 3.2C67.2 1.9 62.2 2.3 55.8 3.2Z" fill="#fff" filter="url(#sp7)"/><path d="M55.8 3.2C49.3 4.1 40.6 5.0 34.7 8.5C28.8 12.0 24.3 18.2 20.6 24.3C16.9 30.4 13.9 38.9 12.7 45.4C11.5 51.9 12.6 57.7 13.6 63.0C14.6 68.3 16.2 71.8 18.8 77.1C21.4 82.4 26.3 89.1 29.4 94.7C32.5 100.3 33.8 105.8 37.3 110.6C40.8 115.4 46.0 120.6 50.5 123.8C55.0 127.0 59.9 129.3 64.6 129.9C69.3 130.5 74.5 129.3 78.7 127.3C83.0 125.2 86.6 121.8 90.1 117.6C93.6 113.3 96.9 107.7 99.8 101.8C102.7 95.9 105.3 88.9 107.7 82.4C110.1 75.9 112.9 69.2 113.9 63.0C114.9 56.8 115.1 51.5 113.9 45.4C112.7 39.2 110.4 31.8 106.9 26.1C103.4 20.4 98.4 14.9 92.8 11.1C87.2 7.3 79.6 4.5 73.4 3.2C67.2 1.9 62.2 2.3 55.8 3.2Z" fill="none" stroke="#fff" stroke-width="4" filter="url(#sp7)" opacity="0.9" style="mix-blend-mode:screen"/><path d="M52 6C80 4 100 30 100 62C100 95 88 120 66 124C50 120 40 100 42 80C50 60 44 30 52 6Z" fill="#fff" filter="url(#sp8)" style="mix-blend-mode:screen"/><path d="M55.8 3.2C49.3 4.1 40.6 5.0 34.7 8.5C28.8 12.0 24.3 18.2 20.6 24.3C16.9 30.4 13.9 38.9 12.7 45.4C11.5 51.9 12.6 57.7 13.6 63.0C14.6 68.3 16.2 71.8 18.8 77.1C21.4 82.4 26.3 89.1 29.4 94.7C32.5 100.3 33.8 105.8 37.3 110.6C40.8 115.4 46.0 120.6 50.5 123.8C55.0 127.0 59.9 129.3 64.6 129.9C69.3 130.5 74.5 129.3 78.7 127.3C83.0 125.2 86.6 121.8 90.1 117.6C93.6 113.3 96.9 107.7 99.8 101.8C102.7 95.9 105.3 88.9 107.7 82.4C110.1 75.9 112.9 69.2 113.9 63.0C114.9 56.8 115.1 51.5 113.9 45.4C112.7 39.2 110.4 31.8 106.9 26.1C103.4 20.4 98.4 14.9 92.8 11.1C87.2 7.3 79.6 4.5 73.4 3.2C67.2 1.9 62.2 2.3 55.8 3.2Z" fill="#fff" filter="url(#sp8)" opacity="0.3" style="mix-blend-mode:screen"/></g><text x="2.5" y="7.5" font-size="6.5" font-weight="bold" fill="#E8E272">MMP2</text><text x="2.5" y="13.8" font-size="6.5" font-weight="bold" fill="#9A1212">PDGFRβ</text><text x="2.5" y="20.1" font-size="6.5" font-weight="bold" fill="#1616A8">DAPI</text><path d="M96.3 130.4H130.6" stroke="#EDEDED" stroke-width="1.3"/><text x="113.6" y="126.7" font-size="10.3" fill="#fff" stroke="#fff" stroke-width="0.3" text-anchor="middle">200 <tspan font-style="italic">μ</tspan>m</text></g>
<g transform="translate(482.2 529.4)"><clipPath id="tc7"><rect width="138.4" height="137.4"/></clipPath><rect width="138.4" height="137.4" fill="#000"/><g clip-path="url(#tc7)"><path d="M64.0 4.2C55.1 4.6 49.7 6.6 44.0 8.5C38.3 10.4 33.9 12.9 30.0 15.5C26.1 18.1 23.7 19.6 20.5 24.0C17.3 28.4 13.4 34.7 10.9 41.9C8.4 49.1 6.1 58.6 5.5 67.0C4.9 75.3 4.9 85.0 7.5 92.0C10.1 99.0 17.6 104.5 21.3 108.9C25.1 113.3 26.6 115.3 30.0 118.6C33.5 121.9 37.7 126.1 42.0 128.6C46.3 131.1 51.0 132.6 56.0 133.5C61.0 134.4 66.0 135.8 72.0 134.0C78.0 132.2 86.2 128.0 91.8 123.0C97.3 118.0 101.7 109.6 105.3 104.2C108.9 98.8 109.3 95.7 113.3 90.8C117.3 85.9 125.5 80.1 129.4 74.7C133.3 69.3 136.1 64.8 137.0 58.5C137.9 52.2 137.4 43.7 134.8 37.0C132.2 30.3 127.7 23.4 121.4 18.3C115.1 13.2 106.8 8.6 97.2 6.2C87.6 3.9 72.9 3.8 64.0 4.2Z" fill="#fff" filter="url(#sp9)" opacity="0.18"/><g fill="#DDD" opacity="0.45"><circle cx="30" cy="56" r="1.1"/><circle cx="22" cy="55.5" r="0.9"/><circle cx="44.5" cy="55" r="1.0"/><circle cx="65" cy="57" r="1.1"/><circle cx="84" cy="73" r="1.0"/><circle cx="88.5" cy="71.5" r="1.1"/><circle cx="79.5" cy="76.5" r="0.9"/><circle cx="99" cy="96.5" r="1.2"/><circle cx="106" cy="88" r="0.9"/><circle cx="48" cy="13" r="0.9"/><circle cx="52" cy="11.5" r="0.8"/><circle cx="12" cy="60" r="0.7"/><circle cx="33" cy="67" r="0.7"/></g><g fill="none" stroke="#FFFFFF" stroke-linecap="round" opacity="1.0" filter="url(#sb)"><path d="M60.0 80.7L64.7 86.5" stroke-width="3.7"/><path d="M58.9 91.2L60.0 92.4" stroke-width="2.9"/><circle cx="55.5" cy="86.2" r="1.4" fill="#FFFFFF" stroke="none" opacity="0.55"/></g></g><path d="M44.5 73.6L95.1 1.8M73.8 100.8L137.6 39.5" stroke="#B4B4B4" stroke-width="0.95" stroke-dasharray="4.9 3.1" fill="none"/><rect x="44.5" y="73.6" width="29.3" height="27.2" fill="none" stroke="#B4B4B4" stroke-width="0.9"/><rect x="95.1" y="0.8" width="42.5" height="38.7" fill="#000"/><g fill="none" stroke="#FFFFFF" stroke-linecap="round" opacity="1.0" filter="url(#sb)"><path d="M114.7 11.1L122.2 20.2" stroke-width="5.6"/><path d="M112.2 27.2L114.9 29.9" stroke-width="3.9"/><circle cx="107.6" cy="19.1" r="2.1" fill="#FFFFFF" stroke="none" opacity="0.55"/></g><rect x="95.1" y="0.8" width="42.5" height="38.7" fill="none" stroke="#B4B4B4" stroke-width="1"/><path d="M124 37.1H134.4" stroke="#E6E6E6" stroke-width="1.5"/><path d="M103.4 130.9H131" stroke="#EDEDED" stroke-width="2"/></g>
<g transform="translate(626.6 529.4)"><clipPath id="tc8"><rect width="138.4" height="137.4"/></clipPath><rect width="138.4" height="137.4" fill="#000"/><g clip-path="url(#tc8)"><path d="M64.0 4.2C55.1 4.6 49.7 6.6 44.0 8.5C38.3 10.4 33.9 12.9 30.0 15.5C26.1 18.1 23.7 19.6 20.5 24.0C17.3 28.4 13.4 34.7 10.9 41.9C8.4 49.1 6.1 58.6 5.5 67.0C4.9 75.3 4.9 85.0 7.5 92.0C10.1 99.0 17.6 104.5 21.3 108.9C25.1 113.3 26.6 115.3 30.0 118.6C33.5 121.9 37.7 126.1 42.0 128.6C46.3 131.1 51.0 132.6 56.0 133.5C61.0 134.4 66.0 135.8 72.0 134.0C78.0 132.2 86.2 128.0 91.8 123.0C97.3 118.0 101.7 109.6 105.3 104.2C108.9 98.8 109.3 95.7 113.3 90.8C117.3 85.9 125.5 80.1 129.4 74.7C133.3 69.3 136.1 64.8 137.0 58.5C137.9 52.2 137.4 43.7 134.8 37.0C132.2 30.3 127.7 23.4 121.4 18.3C115.1 13.2 106.8 8.6 97.2 6.2C87.6 3.9 72.9 3.8 64.0 4.2Z" fill="#fff" filter="url(#sp9)" opacity="0.12"/><g fill="#DDD" opacity="0.3"><circle cx="30" cy="56" r="1.1"/><circle cx="22" cy="55.5" r="0.9"/><circle cx="44.5" cy="55" r="1.0"/><circle cx="65" cy="57" r="1.1"/><circle cx="84" cy="73" r="1.0"/><circle cx="88.5" cy="71.5" r="1.1"/><circle cx="79.5" cy="76.5" r="0.9"/><circle cx="99" cy="96.5" r="1.2"/><circle cx="106" cy="88" r="0.9"/><circle cx="48" cy="13" r="0.9"/><circle cx="52" cy="11.5" r="0.8"/><circle cx="12" cy="60" r="0.7"/><circle cx="33" cy="67" r="0.7"/></g><g fill="none" stroke="#FFFFFF" stroke-linecap="round" opacity="0.85" filter="url(#sb)"><path d="M60.0 80.7L64.7 86.5" stroke-width="3.7"/><path d="M58.9 91.2L60.0 92.4" stroke-width="2.9"/><circle cx="55.5" cy="86.2" r="1.4" fill="#FFFFFF" stroke="none" opacity="0.55"/></g></g><path d="M44.5 73.6L95.1 1.8M73.8 100.8L137.6 39.5" stroke="#B4B4B4" stroke-width="0.95" stroke-dasharray="4.9 3.1" fill="none"/><rect x="44.5" y="73.6" width="29.3" height="27.2" fill="none" stroke="#B4B4B4" stroke-width="0.9"/><rect x="95.1" y="0.8" width="42.5" height="38.7" fill="#000"/><g fill="none" stroke="#FFFFFF" stroke-linecap="round" opacity="0.85" filter="url(#sb)"><path d="M114.7 11.1L122.2 20.2" stroke-width="5.6"/><path d="M112.2 27.2L114.9 29.9" stroke-width="3.9"/><circle cx="107.6" cy="19.1" r="2.1" fill="#FFFFFF" stroke="none" opacity="0.55"/></g><rect x="95.1" y="0.8" width="42.5" height="38.7" fill="none" stroke="#B4B4B4" stroke-width="1"/><path d="M124 37.1H134.4" stroke="#E6E6E6" stroke-width="1.5"/><path d="M103.4 130.9H131" stroke="#EDEDED" stroke-width="2"/></g>
<g transform="translate(770.9 529.4)"><clipPath id="tc9"><rect width="138.4" height="137.4"/></clipPath><rect width="138.4" height="137.4" fill="#000"/><g clip-path="url(#tc9)"><path d="M64.0 4.2C55.1 4.6 49.7 6.6 44.0 8.5C38.3 10.4 33.9 12.9 30.0 15.5C26.1 18.1 23.7 19.6 20.5 24.0C17.3 28.4 13.4 34.7 10.9 41.9C8.4 49.1 6.1 58.6 5.5 67.0C4.9 75.3 4.9 85.0 7.5 92.0C10.1 99.0 17.6 104.5 21.3 108.9C25.1 113.3 26.6 115.3 30.0 118.6C33.5 121.9 37.7 126.1 42.0 128.6C46.3 131.1 51.0 132.6 56.0 133.5C61.0 134.4 66.0 135.8 72.0 134.0C78.0 132.2 86.2 128.0 91.8 123.0C97.3 118.0 101.7 109.6 105.3 104.2C108.9 98.8 109.3 95.7 113.3 90.8C117.3 85.9 125.5 80.1 129.4 74.7C133.3 69.3 136.1 64.8 137.0 58.5C137.9 52.2 137.4 43.7 134.8 37.0C132.2 30.3 127.7 23.4 121.4 18.3C115.1 13.2 106.8 8.6 97.2 6.2C87.6 3.9 72.9 3.8 64.0 4.2Z" fill="#fff" filter="url(#sp10)" opacity="0.7"/><path d="M64.0 4.2C55.1 4.6 49.7 6.6 44.0 8.5C38.3 10.4 33.9 12.9 30.0 15.5C26.1 18.1 23.7 19.6 20.5 24.0C17.3 28.4 13.4 34.7 10.9 41.9C8.4 49.1 6.1 58.6 5.5 67.0C4.9 75.3 4.9 85.0 7.5 92.0C10.1 99.0 17.6 104.5 21.3 108.9C25.1 113.3 26.6 115.3 30.0 118.6C33.5 121.9 37.7 126.1 42.0 128.6C46.3 131.1 51.0 132.6 56.0 133.5C61.0 134.4 66.0 135.8 72.0 134.0C78.0 132.2 86.2 128.0 91.8 123.0C97.3 118.0 101.7 109.6 105.3 104.2C108.9 98.8 109.3 95.7 113.3 90.8C117.3 85.9 125.5 80.1 129.4 74.7C133.3 69.3 136.1 64.8 137.0 58.5C137.9 52.2 137.4 43.7 134.8 37.0C132.2 30.3 127.7 23.4 121.4 18.3C115.1 13.2 106.8 8.6 97.2 6.2C87.6 3.9 72.9 3.8 64.0 4.2Z" fill="none" stroke="#fff" stroke-width="2.5" filter="url(#sp10)" opacity="0.5"/><g fill="#DDD" opacity="0.8"><circle cx="30" cy="56" r="1.1"/><circle cx="22" cy="55.5" r="0.9"/><circle cx="44.5" cy="55" r="1.0"/><circle cx="65" cy="57" r="1.1"/><circle cx="84" cy="73" r="1.0"/><circle cx="88.5" cy="71.5" r="1.1"/><circle cx="79.5" cy="76.5" r="0.9"/><circle cx="99" cy="96.5" r="1.2"/><circle cx="106" cy="88" r="0.9"/><circle cx="48" cy="13" r="0.9"/><circle cx="52" cy="11.5" r="0.8"/><circle cx="12" cy="60" r="0.7"/><circle cx="33" cy="67" r="0.7"/></g><g fill="none" stroke="#FFFFFF" stroke-linecap="round" opacity="1.0" filter="url(#sb)"><path d="M60.0 80.7L64.7 86.5" stroke-width="3.7"/><path d="M58.9 91.2L60.0 92.4" stroke-width="2.9"/><circle cx="55.5" cy="86.2" r="1.4" fill="#FFFFFF" stroke="none" opacity="0.55"/></g></g><path d="M44.5 73.6L95.1 1.8M73.8 100.8L137.6 39.5" stroke="#B4B4B4" stroke-width="0.95" stroke-dasharray="4.9 3.1" fill="none"/><rect x="44.5" y="73.6" width="29.3" height="27.2" fill="none" stroke="#B4B4B4" stroke-width="0.9"/><rect x="95.1" y="0.8" width="42.5" height="38.7" fill="#000"/><path d="M95.1 0.8H137.6V39.5H95.1Z" fill="#fff" filter="url(#sp10)" opacity="0.5"/><g fill="none" stroke="#FFFFFF" stroke-linecap="round" opacity="1.0" filter="url(#sb)"><path d="M114.7 11.1L122.2 20.2" stroke-width="5.6"/><path d="M112.2 27.2L114.9 29.9" stroke-width="3.9"/><circle cx="107.6" cy="19.1" r="2.1" fill="#FFFFFF" stroke="none" opacity="0.55"/></g><rect x="95.1" y="0.8" width="42.5" height="38.7" fill="none" stroke="#B4B4B4" stroke-width="1"/><path d="M124 37.1H134.4" stroke="#E6E6E6" stroke-width="1.5"/><path d="M103.4 130.9H131" stroke="#EDEDED" stroke-width="2"/></g>
<g transform="translate(915.2 529.4)"><clipPath id="tc10"><rect width="138.4" height="137.4"/></clipPath><rect width="138.4" height="137.4" fill="#000"/><g clip-path="url(#tc10)"><path d="M64.0 4.2C55.1 4.6 49.7 6.6 44.0 8.5C38.3 10.4 33.9 12.9 30.0 15.5C26.1 18.1 23.7 19.6 20.5 24.0C17.3 28.4 13.4 34.7 10.9 41.9C8.4 49.1 6.1 58.6 5.5 67.0C4.9 75.3 4.9 85.0 7.5 92.0C10.1 99.0 17.6 104.5 21.3 108.9C25.1 113.3 26.6 115.3 30.0 118.6C33.5 121.9 37.7 126.1 42.0 128.6C46.3 131.1 51.0 132.6 56.0 133.5C61.0 134.4 66.0 135.8 72.0 134.0C78.0 132.2 86.2 128.0 91.8 123.0C97.3 118.0 101.7 109.6 105.3 104.2C108.9 98.8 109.3 95.7 113.3 90.8C117.3 85.9 125.5 80.1 129.4 74.7C133.3 69.3 136.1 64.8 137.0 58.5C137.9 52.2 137.4 43.7 134.8 37.0C132.2 30.3 127.7 23.4 121.4 18.3C115.1 13.2 106.8 8.6 97.2 6.2C87.6 3.9 72.9 3.8 64.0 4.2Z" fill="#fff" filter="url(#sp11)"/><path d="M64.0 4.2C55.1 4.6 49.7 6.6 44.0 8.5C38.3 10.4 33.9 12.9 30.0 15.5C26.1 18.1 23.7 19.6 20.5 24.0C17.3 28.4 13.4 34.7 10.9 41.9C8.4 49.1 6.1 58.6 5.5 67.0C4.9 75.3 4.9 85.0 7.5 92.0C10.1 99.0 17.6 104.5 21.3 108.9C25.1 113.3 26.6 115.3 30.0 118.6C33.5 121.9 37.7 126.1 42.0 128.6C46.3 131.1 51.0 132.6 56.0 133.5C61.0 134.4 66.0 135.8 72.0 134.0C78.0 132.2 86.2 128.0 91.8 123.0C97.3 118.0 101.7 109.6 105.3 104.2C108.9 98.8 109.3 95.7 113.3 90.8C117.3 85.9 125.5 80.1 129.4 74.7C133.3 69.3 136.1 64.8 137.0 58.5C137.9 52.2 137.4 43.7 134.8 37.0C132.2 30.3 127.7 23.4 121.4 18.3C115.1 13.2 106.8 8.6 97.2 6.2C87.6 3.9 72.9 3.8 64.0 4.2Z" fill="#fff" filter="url(#sp10)" opacity="0.35" style="mix-blend-mode:screen"/><g fill="#EEF" opacity="0.9"><circle cx="30" cy="56" r="1.1"/><circle cx="22" cy="55.5" r="0.9"/><circle cx="44.5" cy="55" r="1.0"/><circle cx="65" cy="57" r="1.1"/><circle cx="84" cy="73" r="1.0"/><circle cx="88.5" cy="71.5" r="1.1"/><circle cx="79.5" cy="76.5" r="0.9"/><circle cx="99" cy="96.5" r="1.2"/><circle cx="106" cy="88" r="0.9"/><circle cx="48" cy="13" r="0.9"/><circle cx="52" cy="11.5" r="0.8"/><circle cx="12" cy="60" r="0.7"/><circle cx="33" cy="67" r="0.7"/></g><g fill="none" stroke="#4060FF" stroke-linecap="round" opacity="0.8" filter="url(#sb)"><path d="M60.0 80.7L64.7 86.5" stroke-width="5.1"/><path d="M58.9 91.2L60.0 92.4" stroke-width="4.3"/><circle cx="55.5" cy="86.2" r="1.4" fill="#4060FF" stroke="none" opacity="0.55"/></g><g fill="none" stroke="#FFFFFF" stroke-linecap="round" opacity="1" filter="url(#sb)"><path d="M60.0 80.7L64.7 86.5" stroke-width="3.7"/><path d="M58.9 91.2L60.0 92.4" stroke-width="2.9"/><circle cx="55.5" cy="86.2" r="1.4" fill="#FFFFFF" stroke="none" opacity="0.55"/></g></g><path d="M44.5 73.6L95.1 1.8M73.8 100.8L137.6 39.5" stroke="#B4B4B4" stroke-width="0.95" stroke-dasharray="4.9 3.1" fill="none"/><rect x="44.5" y="73.6" width="29.3" height="27.2" fill="none" stroke="#B4B4B4" stroke-width="0.9"/><rect x="95.1" y="0.8" width="42.5" height="38.7" fill="#000"/><path d="M95.1 0.8H137.6V39.5H95.1Z" fill="#fff" filter="url(#sp11)" opacity="0.8"/><g fill="none" stroke="#4060FF" stroke-linecap="round" opacity="0.9" filter="url(#sb)"><path d="M114.7 11.1L122.2 20.2" stroke-width="7.8"/><path d="M112.2 27.2L114.9 29.9" stroke-width="6.1"/><circle cx="107.6" cy="19.1" r="2.1" fill="#4060FF" stroke="none" opacity="0.55"/></g><g fill="none" stroke="#FFFFFF" stroke-linecap="round" opacity="1" filter="url(#sb)"><path d="M114.7 11.1L122.2 20.2" stroke-width="5.6"/><path d="M112.2 27.2L114.9 29.9" stroke-width="3.9"/><circle cx="107.6" cy="19.1" r="2.1" fill="#FFFFFF" stroke="none" opacity="0.55"/></g><rect x="95.1" y="0.8" width="42.5" height="38.7" fill="none" stroke="#B4B4B4" stroke-width="1"/><path d="M124 37.1H134.4" stroke="#E6E6E6" stroke-width="1.5"/><path d="M103.4 130.9H131" stroke="#EDEDED" stroke-width="2"/><text x="2.5" y="7.3" font-size="6.4" font-weight="bold" fill="#DADA78">TGFBR2</text><text x="2.5" y="14.8" font-size="6.4" font-weight="bold" fill="#A81212">BMP2</text><text x="2.5" y="22.2" font-size="6.4" font-weight="bold" fill="#2AA62A">PDGFα</text><text x="2.5" y="29.7" font-size="6.4" font-weight="bold" fill="#1818B4">DAPI</text></g>
<g transform="translate(482.2 673.3)"><clipPath id="tc11"><rect width="138.4" height="137.4"/></clipPath><rect width="138.4" height="137.4" fill="#000"/><g clip-path="url(#tc11)"><path d="M55 30C75 25 95 45 98 70C100 95 90 118 70 122C50 120 38 100 36 80C34 55 40 35 55 30Z" fill="#fff" filter="url(#sp12)" opacity="0.9"/><path d="M65.1 4.4C57.5 4.3 50.5 5.7 44.0 8.8C37.5 11.9 31.2 17.3 26.4 22.9C21.6 28.5 17.2 36.1 15.0 42.3C12.8 48.5 12.5 54.0 13.2 59.9C13.9 65.8 16.3 71.9 19.4 77.5C22.5 83.1 28.5 88.9 31.7 93.3C34.9 97.7 36.7 99.8 38.7 103.9C40.8 108.0 41.1 113.6 44.0 118.0C46.9 122.4 51.3 127.7 56.3 130.3C61.3 132.9 67.7 134.1 73.9 133.8C80.1 133.5 87.7 131.7 93.3 128.5C98.9 125.3 103.9 119.7 107.4 114.4C110.9 109.1 112.9 103.0 114.4 96.8C115.9 90.6 115.6 84.0 116.2 77.5C116.8 71.0 118.0 64.6 118.0 58.1C118.0 51.6 118.0 44.6 116.2 38.7C114.4 32.8 111.8 27.7 107.4 22.9C103.0 18.1 96.8 12.8 89.8 9.7C82.8 6.6 72.7 4.5 65.1 4.4Z" fill="#fff" filter="url(#sp12)" opacity="0.35"/><g fill="#D8D8D8" opacity="0.45" filter="url(#sb)"><circle cx="66.3" cy="7.3" r="0.8"/><circle cx="72.5" cy="8.6" r="0.8"/><circle cx="88.6" cy="12.1" r="0.9"/><circle cx="41.1" cy="88.1" r="1.1"/><circle cx="68.5" cy="96.7" r="1.1"/><circle cx="79.2" cy="81.9" r="0.9"/><circle cx="68.5" cy="44.8" r="0.8"/><circle cx="81.9" cy="43.5" r="0.8"/><circle cx="91.3" cy="54.2" r="0.8"/><circle cx="60" cy="100" r="0.8"/><circle cx="75" cy="105" r="0.8"/><circle cx="95" cy="95" r="0.7"/><circle cx="113.6" cy="80.6" r="0.7"/><circle cx="52" cy="75" r="0.7"/><circle cx="62" cy="70" r="0.7"/><circle cx="85" cy="70" r="0.7"/><circle cx="56" cy="60" r="0.6"/><circle cx="72" cy="88" r="0.7"/><circle cx="88" cy="102" r="0.7"/><circle cx="47" cy="97" r="0.7"/></g></g><path d="M96.7 130.2H130.8" stroke="#EDEDED" stroke-width="2"/></g>
<g transform="translate(626.6 673.3)"><clipPath id="tc12"><rect width="138.4" height="137.4"/></clipPath><rect width="138.4" height="137.4" fill="#000"/><g clip-path="url(#tc12)"><path d="M55 30C75 25 95 45 98 70C100 95 90 118 70 122C50 120 38 100 36 80C34 55 40 35 55 30Z" fill="#fff" filter="url(#sp12)"/><path d="M65.1 4.4C57.5 4.3 50.5 5.7 44.0 8.8C37.5 11.9 31.2 17.3 26.4 22.9C21.6 28.5 17.2 36.1 15.0 42.3C12.8 48.5 12.5 54.0 13.2 59.9C13.9 65.8 16.3 71.9 19.4 77.5C22.5 83.1 28.5 88.9 31.7 93.3C34.9 97.7 36.7 99.8 38.7 103.9C40.8 108.0 41.1 113.6 44.0 118.0C46.9 122.4 51.3 127.7 56.3 130.3C61.3 132.9 67.7 134.1 73.9 133.8C80.1 133.5 87.7 131.7 93.3 128.5C98.9 125.3 103.9 119.7 107.4 114.4C110.9 109.1 112.9 103.0 114.4 96.8C115.9 90.6 115.6 84.0 116.2 77.5C116.8 71.0 118.0 64.6 118.0 58.1C118.0 51.6 118.0 44.6 116.2 38.7C114.4 32.8 111.8 27.7 107.4 22.9C103.0 18.1 96.8 12.8 89.8 9.7C82.8 6.6 72.7 4.5 65.1 4.4Z" fill="#fff" filter="url(#sp12)" opacity="0.35"/><g fill="#D8D8D8" opacity="0.5" filter="url(#sb)"><circle cx="66.3" cy="7.3" r="0.8"/><circle cx="72.5" cy="8.6" r="0.8"/><circle cx="88.6" cy="12.1" r="0.9"/><circle cx="41.1" cy="88.1" r="1.1"/><circle cx="68.5" cy="96.7" r="1.1"/><circle cx="79.2" cy="81.9" r="0.9"/><circle cx="68.5" cy="44.8" r="0.8"/><circle cx="81.9" cy="43.5" r="0.8"/><circle cx="91.3" cy="54.2" r="0.8"/><circle cx="60" cy="100" r="0.8"/><circle cx="75" cy="105" r="0.8"/><circle cx="95" cy="95" r="0.7"/><circle cx="113.6" cy="80.6" r="0.7"/><circle cx="52" cy="75" r="0.7"/><circle cx="62" cy="70" r="0.7"/><circle cx="85" cy="70" r="0.7"/><circle cx="56" cy="60" r="0.6"/><circle cx="72" cy="88" r="0.7"/><circle cx="88" cy="102" r="0.7"/><circle cx="47" cy="97" r="0.7"/></g></g><path d="M96.7 130.2H130.8" stroke="#EDEDED" stroke-width="2"/></g>
<g transform="translate(770.9 673.3)"><clipPath id="tc13"><rect width="138.4" height="137.4"/></clipPath><rect width="138.4" height="137.4" fill="#000"/><g clip-path="url(#tc13)"><path d="M65.1 4.4C57.5 4.3 50.5 5.7 44.0 8.8C37.5 11.9 31.2 17.3 26.4 22.9C21.6 28.5 17.2 36.1 15.0 42.3C12.8 48.5 12.5 54.0 13.2 59.9C13.9 65.8 16.3 71.9 19.4 77.5C22.5 83.1 28.5 88.9 31.7 93.3C34.9 97.7 36.7 99.8 38.7 103.9C40.8 108.0 41.1 113.6 44.0 118.0C46.9 122.4 51.3 127.7 56.3 130.3C61.3 132.9 67.7 134.1 73.9 133.8C80.1 133.5 87.7 131.7 93.3 128.5C98.9 125.3 103.9 119.7 107.4 114.4C110.9 109.1 112.9 103.0 114.4 96.8C115.9 90.6 115.6 84.0 116.2 77.5C116.8 71.0 118.0 64.6 118.0 58.1C118.0 51.6 118.0 44.6 116.2 38.7C114.4 32.8 111.8 27.7 107.4 22.9C103.0 18.1 96.8 12.8 89.8 9.7C82.8 6.6 72.7 4.5 65.1 4.4Z" fill="#fff" filter="url(#sp13)" opacity="0.6"/><path d="M65.1 4.4C57.5 4.3 50.5 5.7 44.0 8.8C37.5 11.9 31.2 17.3 26.4 22.9C21.6 28.5 17.2 36.1 15.0 42.3C12.8 48.5 12.5 54.0 13.2 59.9C13.9 65.8 16.3 71.9 19.4 77.5C22.5 83.1 28.5 88.9 31.7 93.3C34.9 97.7 36.7 99.8 38.7 103.9C40.8 108.0 41.1 113.6 44.0 118.0C46.9 122.4 51.3 127.7 56.3 130.3C61.3 132.9 67.7 134.1 73.9 133.8C80.1 133.5 87.7 131.7 93.3 128.5C98.9 125.3 103.9 119.7 107.4 114.4C110.9 109.1 112.9 103.0 114.4 96.8C115.9 90.6 115.6 84.0 116.2 77.5C116.8 71.0 118.0 64.6 118.0 58.1C118.0 51.6 118.0 44.6 116.2 38.7C114.4 32.8 111.8 27.7 107.4 22.9C103.0 18.1 96.8 12.8 89.8 9.7C82.8 6.6 72.7 4.5 65.1 4.4Z" fill="none" stroke="#fff" stroke-width="2.5" filter="url(#sp13)" opacity="0.4"/></g><path d="M96.7 130.2H130.8" stroke="#EDEDED" stroke-width="2"/></g>
<g transform="translate(915.2 673.3)"><clipPath id="tc14"><rect width="138.4" height="137.4"/></clipPath><rect width="138.4" height="137.4" fill="#000"/><g clip-path="url(#tc14)"><path d="M65.1 4.4C57.5 4.3 50.5 5.7 44.0 8.8C37.5 11.9 31.2 17.3 26.4 22.9C21.6 28.5 17.2 36.1 15.0 42.3C12.8 48.5 12.5 54.0 13.2 59.9C13.9 65.8 16.3 71.9 19.4 77.5C22.5 83.1 28.5 88.9 31.7 93.3C34.9 97.7 36.7 99.8 38.7 103.9C40.8 108.0 41.1 113.6 44.0 118.0C46.9 122.4 51.3 127.7 56.3 130.3C61.3 132.9 67.7 134.1 73.9 133.8C80.1 133.5 87.7 131.7 93.3 128.5C98.9 125.3 103.9 119.7 107.4 114.4C110.9 109.1 112.9 103.0 114.4 96.8C115.9 90.6 115.6 84.0 116.2 77.5C116.8 71.0 118.0 64.6 118.0 58.1C118.0 51.6 118.0 44.6 116.2 38.7C114.4 32.8 111.8 27.7 107.4 22.9C103.0 18.1 96.8 12.8 89.8 9.7C82.8 6.6 72.7 4.5 65.1 4.4Z" fill="#fff" filter="url(#sp14)"/><path d="M65.1 4.4C57.5 4.3 50.5 5.7 44.0 8.8C37.5 11.9 31.2 17.3 26.4 22.9C21.6 28.5 17.2 36.1 15.0 42.3C12.8 48.5 12.5 54.0 13.2 59.9C13.9 65.8 16.3 71.9 19.4 77.5C22.5 83.1 28.5 88.9 31.7 93.3C34.9 97.7 36.7 99.8 38.7 103.9C40.8 108.0 41.1 113.6 44.0 118.0C46.9 122.4 51.3 127.7 56.3 130.3C61.3 132.9 67.7 134.1 73.9 133.8C80.1 133.5 87.7 131.7 93.3 128.5C98.9 125.3 103.9 119.7 107.4 114.4C110.9 109.1 112.9 103.0 114.4 96.8C115.9 90.6 115.6 84.0 116.2 77.5C116.8 71.0 118.0 64.6 118.0 58.1C118.0 51.6 118.0 44.6 116.2 38.7C114.4 32.8 111.8 27.7 107.4 22.9C103.0 18.1 96.8 12.8 89.8 9.7C82.8 6.6 72.7 4.5 65.1 4.4Z" fill="none" stroke="#fff" stroke-width="5" filter="url(#sp14)" opacity="0.8" style="mix-blend-mode:screen"/><ellipse cx="62" cy="76" rx="34" ry="42" fill="url(#dk)"/><path d="M50 35C66 30 78 45 80 70C82 95 76 112 62 114C48 112 40 96 40 78C38 55 42 40 50 35Z" fill="#fff" filter="url(#sp15)" style="mix-blend-mode:screen"/><path d="M65.1 4.4C57.5 4.3 50.5 5.7 44.0 8.8C37.5 11.9 31.2 17.3 26.4 22.9C21.6 28.5 17.2 36.1 15.0 42.3C12.8 48.5 12.5 54.0 13.2 59.9C13.9 65.8 16.3 71.9 19.4 77.5C22.5 83.1 28.5 88.9 31.7 93.3C34.9 97.7 36.7 99.8 38.7 103.9C40.8 108.0 41.1 113.6 44.0 118.0C46.9 122.4 51.3 127.7 56.3 130.3C61.3 132.9 67.7 134.1 73.9 133.8C80.1 133.5 87.7 131.7 93.3 128.5C98.9 125.3 103.9 119.7 107.4 114.4C110.9 109.1 112.9 103.0 114.4 96.8C115.9 90.6 115.6 84.0 116.2 77.5C116.8 71.0 118.0 64.6 118.0 58.1C118.0 51.6 118.0 44.6 116.2 38.7C114.4 32.8 111.8 27.7 107.4 22.9C103.0 18.1 96.8 12.8 89.8 9.7C82.8 6.6 72.7 4.5 65.1 4.4Z" fill="#fff" filter="url(#sp13)" opacity="0.3" style="mix-blend-mode:screen"/></g><text x="2.5" y="7.3" font-size="6.4" font-weight="bold" fill="#DADA78">TGFBR2</text><text x="2.5" y="14.8" font-size="6.4" font-weight="bold" fill="#A81212">BMP2</text><text x="2.5" y="22.2" font-size="6.4" font-weight="bold" fill="#2AA62A">PDGFα</text><text x="2.5" y="29.7" font-size="6.4" font-weight="bold" fill="#1818B4">DAPI</text><path d="M96 130.6H130.3" stroke="#EDEDED" stroke-width="1.3"/><text x="113.2" y="126.5" font-size="10.3" fill="#fff" stroke="#fff" stroke-width="0.3" text-anchor="middle">200 <tspan font-style="italic">μ</tspan>m</text></g>
<text x="104.30" y="525.30" font-size="13.1" text-anchor="middle" fill="#000" stroke="#000" stroke-width="0.29">MMP2</text>
<text x="250.00" y="525.30" font-size="13.1" text-anchor="middle" fill="#000" stroke="#000" stroke-width="0.29">PDGFRβ</text>
<text x="390.50" y="525.30" font-size="13.1" text-anchor="middle" fill="#000" stroke="#000" stroke-width="0.29">Merge</text>
<text x="554.60" y="525.30" font-size="12.7" text-anchor="middle" fill="#000" stroke="#000" stroke-width="0.28">TGFBR2</text>
<text x="698.00" y="525.30" font-size="12.7" text-anchor="middle" fill="#000" stroke="#000" stroke-width="0.28">BMP2</text>
<text x="843.60" y="525.30" font-size="12.7" text-anchor="middle" fill="#000" stroke="#000" stroke-width="0.28">PDGFα</text>
<text x="986.20" y="525.30" font-size="12.7" text-anchor="middle" fill="#000" stroke="#000" stroke-width="0.28">Merge</text>
<text x="27.80" y="596.40" font-size="12.75" text-anchor="middle" fill="#000" stroke="#000" stroke-width="0.28" transform="rotate(-90 27.80 596.40)">C-Silk-Ov</text>
<text x="27.80" y="739.80" font-size="12.75" text-anchor="middle" fill="#000" stroke="#000" stroke-width="0.28" transform="rotate(-90 27.80 739.80)">M-Silk-Ov</text>
<text x="475.00" y="592.50" font-size="12.85" text-anchor="middle" fill="#000" stroke="#000" stroke-width="0.28" transform="rotate(-90 475.00 592.50)">C-Silk-Ov</text>
<text x="475.00" y="736.60" font-size="13.0" text-anchor="middle" fill="#000" stroke="#000" stroke-width="0.29" transform="rotate(-90 475.00 736.60)">M-Silk-Ov</text>
</svg>
</body></html>
